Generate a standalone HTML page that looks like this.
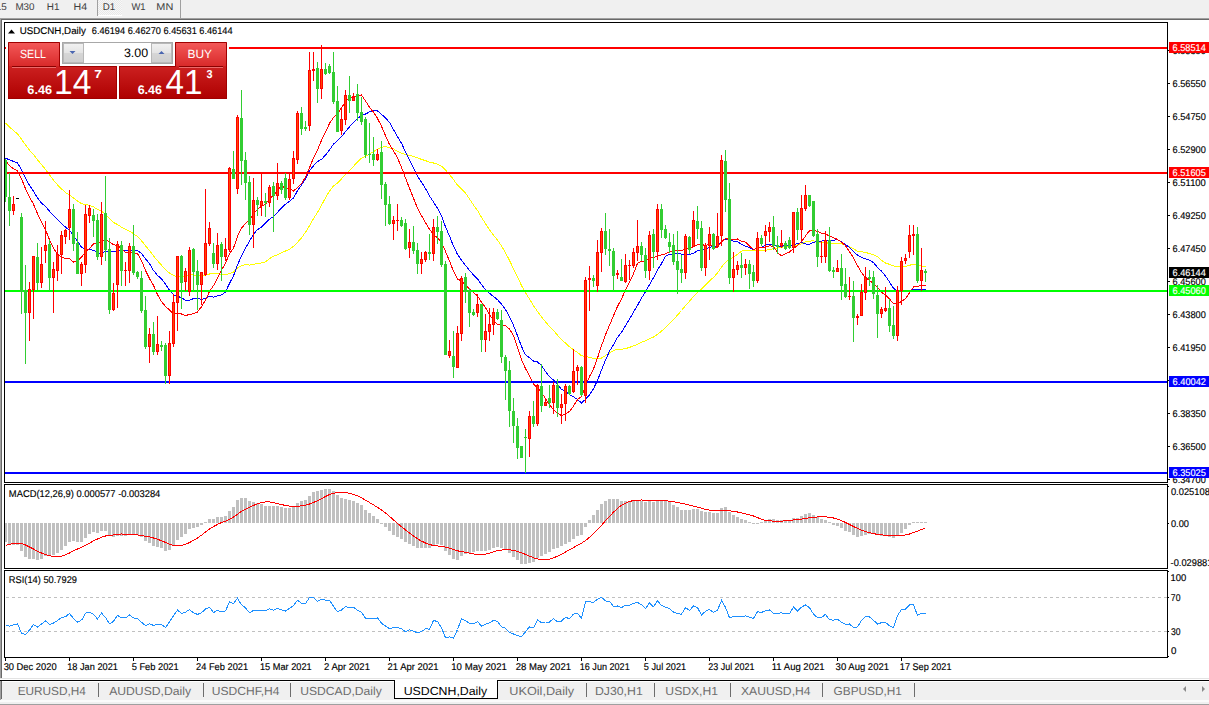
<!DOCTYPE html>
<html><head><meta charset="utf-8"><style>
html,body{margin:0;padding:0;background:#f0f0f0;overflow:hidden;}
svg{display:block;font-family:'Liberation Sans', Arial, sans-serif;text-rendering:geometricPrecision;}
</style></head><body>
<svg width="1209" height="705" viewBox="0 0 1209 705">
<defs><clipPath id="cm"><rect x="5" y="23" width="1162" height="459"/></clipPath><clipPath id="cmacd"><rect x="5" y="485" width="1162" height="83"/></clipPath><clipPath id="crsi"><rect x="5" y="571" width="1162" height="86"/></clipPath><pattern id="chk" width="2" height="2" patternUnits="userSpaceOnUse"><rect width="2" height="2" fill="#f7f7f7"/><rect width="1" height="1" fill="#e8e8e8"/><rect x="1" y="1" width="1" height="1" fill="#e8e8e8"/></pattern><linearGradient id="gTab" x1="0" y1="0" x2="0" y2="1"><stop offset="0" stop-color="#f45a5a"/><stop offset="1" stop-color="#d92a2a"/></linearGradient><linearGradient id="gLow" x1="0" y1="0" x2="0" y2="1"><stop offset="0" stop-color="#e23838"/><stop offset="1" stop-color="#ae0000"/></linearGradient><linearGradient id="gBtn" x1="0" y1="0" x2="0" y2="1"><stop offset="0" stop-color="#f2f2f2"/><stop offset="0.5" stop-color="#e4e4e4"/><stop offset="0.51" stop-color="#d6d6d6"/><stop offset="1" stop-color="#cfcfcf"/></linearGradient></defs>
<rect x="0" y="0" width="1209" height="705" fill="#f0f0f0"/>
<rect x="98" y="0" width="24" height="15.5" fill="url(#chk)"/>
<rect x="97" y="0" width="1" height="16" fill="#a0a0a0"/>
<rect x="98" y="15" width="24" height="1" fill="#ffffff"/>
<rect x="180" y="0" width="1" height="18" fill="#a0a0a0"/>
<text x="-12.59" y="9.9" font-size="9.8" fill="#404040" textLength="19.29" lengthAdjust="spacingAndGlyphs">M15</text>
<text x="15.41" y="9.9" font-size="9.8" fill="#404040" textLength="19.13" lengthAdjust="spacingAndGlyphs">M30</text>
<text x="46.81" y="9.9" font-size="9.8" fill="#404040" textLength="12.67" lengthAdjust="spacingAndGlyphs">H1</text>
<text x="73.55" y="9.9" font-size="9.8" fill="#404040" textLength="13.61" lengthAdjust="spacingAndGlyphs">H4</text>
<text x="102.82" y="9.9" font-size="9.8" fill="#404040" textLength="12.45" lengthAdjust="spacingAndGlyphs">D1</text>
<text x="131.45" y="9.9" font-size="9.8" fill="#404040" textLength="14.17" lengthAdjust="spacingAndGlyphs">W1</text>
<text x="156.33" y="9.9" font-size="9.8" fill="#404040" textLength="16.95" lengthAdjust="spacingAndGlyphs">MN</text>
<rect x="0" y="18" width="1209" height="1" fill="#a0a0a0"/>
<rect x="1" y="19" width="1208" height="1" fill="#696969"/>
<rect x="0" y="18" width="1" height="661" fill="#a0a0a0"/>
<rect x="1" y="19" width="1" height="659" fill="#696969"/>
<rect x="2" y="20" width="1207" height="658" fill="#ffffff"/>
<rect x="0" y="678" width="1209" height="1" fill="#e3e3e3"/>
<rect x="0" y="679" width="1209" height="1" fill="#ffffff"/>
<polyline clip-path="url(#cm)" points="5.5,122.9 9.5,127.0 13.5,130.6 17.5,133.8 21.5,139.2 25.5,145.0 29.5,150.2 33.5,154.6 37.5,159.8 41.5,164.7 45.5,169.3 49.5,174.8 53.5,180.1 57.5,184.9 61.5,188.9 65.5,192.5 69.5,195.1 73.5,197.9 77.5,201.1 81.5,203.6 85.5,204.6 89.5,205.4 93.5,206.8 97.5,209.5 101.5,211.3 105.5,214.3 109.5,218.7 113.5,222.4 117.5,224.6 121.5,227.1 125.5,229.3 129.5,231.1 133.5,233.7 137.5,236.6 141.5,240.7 145.5,245.8 149.5,250.6 153.5,255.9 157.5,260.7 161.5,265.2 165.5,269.7 169.5,273.0 173.5,275.4 177.5,276.9 181.5,276.6 185.5,275.6 189.5,274.6 193.5,275.0 197.5,275.1 201.5,275.3 205.5,275.2 209.5,274.0 213.5,273.9 217.5,273.6 221.5,274.2 225.5,274.6 229.5,273.6 233.5,272.0 237.5,268.1 241.5,265.5 245.5,264.7 249.5,265.1 253.5,264.6 257.5,263.3 261.5,263.0 265.5,261.8 269.5,258.7 273.5,256.3 277.5,254.8 281.5,252.8 285.5,251.0 289.5,249.3 293.5,246.4 297.5,242.3 301.5,237.8 305.5,232.3 309.5,225.7 313.5,218.7 317.5,212.3 321.5,205.3 325.5,197.8 329.5,191.0 333.5,186.0 337.5,182.9 341.5,178.8 345.5,174.4 349.5,170.7 353.5,166.3 357.5,162.0 361.5,158.2 365.5,156.0 369.5,154.2 373.5,151.6 377.5,149.3 381.5,147.5 385.5,146.4 389.5,147.8 393.5,148.8 397.5,151.4 401.5,153.1 405.5,154.7 409.5,155.2 413.5,156.4 417.5,157.9 421.5,159.4 425.5,160.6 429.5,162.3 433.5,163.0 437.5,164.2 441.5,166.1 445.5,170.1 449.5,174.4 453.5,179.6 457.5,185.1 461.5,188.8 465.5,192.9 469.5,198.9 473.5,205.1 477.5,210.5 481.5,217.2 485.5,223.7 489.5,229.9 493.5,235.2 497.5,239.9 501.5,245.9 505.5,252.7 509.5,260.5 513.5,268.7 517.5,277.1 521.5,285.5 525.5,292.6 529.5,299.1 533.5,305.7 537.5,311.4 541.5,316.9 545.5,321.9 549.5,326.4 553.5,330.5 557.5,335.2 561.5,339.6 565.5,343.1 569.5,346.8 573.5,349.9 577.5,352.4 581.5,355.8 585.5,356.5 589.5,357.2 593.5,358.5 597.5,359.0 601.5,358.1 605.5,355.5 609.5,353.0 613.5,350.7 617.5,349.2 621.5,349.3 625.5,348.6 629.5,347.4 633.5,345.9 637.5,344.4 641.5,342.3 645.5,340.8 649.5,338.6 653.5,337.0 657.5,334.3 661.5,331.1 665.5,327.8 669.5,323.7 673.5,319.6 677.5,315.1 681.5,310.5 685.5,305.5 689.5,301.3 693.5,296.3 697.5,292.4 701.5,288.9 705.5,285.0 709.5,280.8 713.5,277.4 717.5,273.1 721.5,267.0 725.5,262.3 729.5,259.4 733.5,256.9 737.5,254.3 741.5,251.1 745.5,250.7 749.5,250.6 753.5,250.6 757.5,250.3 761.5,250.6 765.5,250.2 769.5,249.6 773.5,248.8 777.5,248.1 781.5,247.2 785.5,246.8 789.5,246.4 793.5,245.4 797.5,245.0 801.5,243.8 805.5,241.9 809.5,241.2 813.5,240.8 817.5,241.9 821.5,242.6 825.5,242.7 829.5,243.3 833.5,243.5 837.5,243.5 841.5,243.8 845.5,245.3 849.5,246.5 853.5,248.9 857.5,251.1 861.5,251.7 865.5,252.4 869.5,253.6 873.5,254.7 877.5,256.6 881.5,260.4 885.5,263.1 889.5,264.3 893.5,265.9 897.5,266.6 901.5,266.4 905.5,266.3 909.5,265.3 913.5,264.1 917.5,265.2 921.5,265.9 925.5,266.9" fill="none" stroke="#ffff00" stroke-width="1" shape-rendering="crispEdges"/>
<polyline clip-path="url(#cm)" points="5.5,158.1 9.5,159.9 13.5,161.4 17.5,163.0 21.5,169.7 25.5,178.0 29.5,185.4 33.5,191.2 37.5,197.9 41.5,203.0 45.5,206.5 49.5,211.2 53.5,215.6 57.5,219.7 61.5,223.3 65.5,227.2 69.5,230.3 73.5,235.3 77.5,241.6 81.5,247.0 85.5,249.2 89.5,249.7 93.5,250.2 97.5,252.7 101.5,253.4 105.5,251.4 109.5,251.3 113.5,251.5 117.5,250.9 121.5,250.3 125.5,250.6 129.5,250.6 133.5,250.4 137.5,250.7 141.5,253.4 145.5,258.7 149.5,263.7 153.5,270.5 157.5,275.3 161.5,278.8 165.5,284.1 169.5,290.2 173.5,294.7 177.5,296.4 181.5,297.6 185.5,300.3 189.5,300.4 193.5,298.6 197.5,298.2 201.5,299.6 205.5,298.2 209.5,296.3 213.5,297.1 217.5,295.8 221.5,294.9 225.5,291.9 229.5,283.4 233.5,276.0 237.5,264.8 241.5,256.0 245.5,248.2 249.5,241.0 253.5,234.2 257.5,229.6 261.5,227.0 265.5,223.2 269.5,219.2 273.5,216.6 277.5,212.3 281.5,207.8 285.5,204.3 289.5,201.2 293.5,197.9 297.5,190.7 301.5,185.1 305.5,179.1 309.5,170.5 313.5,165.8 317.5,161.5 321.5,159.3 325.5,155.1 329.5,149.9 333.5,144.1 337.5,140.8 341.5,136.7 345.5,131.6 349.5,126.8 353.5,122.5 357.5,118.5 361.5,115.6 365.5,114.0 369.5,111.9 373.5,111.0 377.5,110.9 381.5,114.3 385.5,117.9 389.5,122.4 393.5,129.5 397.5,136.7 401.5,143.3 405.5,151.8 409.5,159.9 413.5,168.4 417.5,176.1 421.5,182.1 425.5,188.5 429.5,196.0 433.5,202.0 437.5,208.4 441.5,215.7 445.5,226.8 449.5,236.1 453.5,246.2 457.5,254.4 461.5,260.3 465.5,265.4 469.5,270.5 473.5,274.9 477.5,278.9 481.5,284.6 485.5,289.6 489.5,293.2 493.5,296.5 497.5,299.7 501.5,304.2 505.5,309.5 509.5,317.1 513.5,325.3 517.5,335.8 521.5,346.5 525.5,354.8 529.5,357.7 533.5,361.1 537.5,362.0 541.5,365.5 545.5,371.4 549.5,376.7 553.5,380.1 557.5,384.6 561.5,389.3 565.5,391.5 569.5,394.5 573.5,396.8 577.5,399.4 581.5,403.0 585.5,399.3 589.5,394.9 593.5,388.7 597.5,380.4 601.5,370.1 605.5,360.1 609.5,351.2 613.5,344.6 617.5,337.4 621.5,332.4 625.5,325.7 629.5,319.2 633.5,312.0 637.5,305.4 641.5,298.1 645.5,291.8 649.5,284.6 653.5,277.8 657.5,270.1 661.5,263.6 665.5,256.1 669.5,254.5 673.5,253.7 677.5,253.2 681.5,254.2 685.5,254.5 689.5,254.5 693.5,253.1 697.5,250.9 701.5,250.6 705.5,248.9 709.5,247.4 713.5,246.6 717.5,245.9 721.5,241.8 725.5,239.2 729.5,239.5 733.5,241.1 737.5,241.7 741.5,244.5 745.5,246.1 749.5,247.8 753.5,249.5 757.5,248.4 761.5,247.1 765.5,245.1 769.5,244.7 773.5,244.5 777.5,245.7 781.5,246.4 785.5,245.5 789.5,245.6 793.5,244.6 797.5,243.7 801.5,242.4 805.5,244.0 809.5,244.3 813.5,242.3 817.5,241.7 821.5,241.3 825.5,240.0 829.5,240.3 833.5,240.3 837.5,239.7 841.5,241.9 845.5,244.4 849.5,247.5 853.5,251.8 857.5,255.1 861.5,257.3 865.5,258.9 869.5,260.3 873.5,262.5 877.5,267.4 881.5,271.1 885.5,275.9 889.5,282.1 893.5,288.3 897.5,290.9 901.5,291.1 905.5,291.2 909.5,290.9 913.5,289.2 917.5,289.6 921.5,289.7 925.5,289.1" fill="none" stroke="#0000ff" stroke-width="1" shape-rendering="crispEdges"/>
<polyline clip-path="url(#cm)" points="5.5,160.7 9.5,165.6 13.5,168.9 17.5,170.9 21.5,178.9 25.5,188.6 29.5,197.2 33.5,204.2 37.5,213.7 41.5,222.4 45.5,229.9 49.5,239.7 53.5,248.2 57.5,254.3 61.5,257.0 65.5,258.4 69.5,258.8 73.5,262.0 77.5,260.7 81.5,257.2 85.5,251.8 89.5,248.4 93.5,244.0 97.5,243.4 101.5,241.2 105.5,239.2 109.5,242.0 113.5,244.8 117.5,245.5 121.5,248.4 125.5,252.7 129.5,252.9 133.5,252.8 137.5,253.7 141.5,260.6 145.5,270.6 149.5,278.6 153.5,285.4 157.5,294.7 161.5,301.7 165.5,306.4 169.5,310.0 173.5,314.2 177.5,313.1 181.5,314.0 185.5,315.8 189.5,314.2 193.5,313.9 197.5,312.0 201.5,306.7 205.5,300.2 209.5,291.4 213.5,285.6 217.5,278.4 221.5,269.9 225.5,263.2 229.5,253.6 233.5,248.1 237.5,236.2 241.5,228.3 245.5,223.5 249.5,220.1 253.5,214.0 257.5,209.2 261.5,206.2 265.5,204.4 269.5,198.9 273.5,195.4 277.5,190.1 281.5,185.9 285.5,188.0 289.5,188.0 293.5,191.0 297.5,187.6 301.5,183.7 305.5,176.9 309.5,167.7 313.5,158.0 317.5,149.9 321.5,140.4 325.5,132.3 329.5,123.4 333.5,117.6 337.5,113.5 341.5,107.8 345.5,101.8 349.5,97.8 353.5,96.6 357.5,95.5 361.5,94.9 365.5,101.0 369.5,107.2 373.5,112.2 377.5,118.4 381.5,126.3 385.5,135.7 389.5,144.5 393.5,150.8 397.5,158.0 401.5,167.4 405.5,177.9 409.5,188.3 413.5,198.2 417.5,208.3 421.5,215.7 425.5,222.6 429.5,229.3 433.5,234.5 437.5,237.9 441.5,242.2 445.5,251.5 449.5,260.9 453.5,271.4 457.5,279.0 461.5,281.1 465.5,284.6 469.5,289.0 473.5,292.6 477.5,295.9 481.5,302.2 485.5,307.7 489.5,314.6 493.5,320.4 497.5,324.2 501.5,324.4 505.5,325.8 509.5,329.0 513.5,335.6 517.5,347.7 521.5,359.6 525.5,368.6 529.5,375.8 533.5,384.3 537.5,387.5 541.5,392.8 545.5,398.4 549.5,404.8 553.5,409.6 557.5,413.2 561.5,415.6 565.5,413.8 569.5,411.5 573.5,406.1 577.5,399.6 581.5,396.6 585.5,386.8 589.5,376.5 593.5,369.0 597.5,358.0 601.5,345.8 605.5,334.8 609.5,325.2 613.5,315.8 617.5,306.4 621.5,298.9 625.5,289.7 629.5,282.1 633.5,273.8 637.5,263.2 641.5,261.5 645.5,260.9 649.5,257.7 653.5,257.7 657.5,256.1 661.5,254.8 665.5,253.9 669.5,251.7 673.5,250.9 677.5,250.2 681.5,250.7 685.5,248.7 689.5,248.6 693.5,246.7 697.5,244.9 701.5,244.6 705.5,245.4 709.5,244.1 713.5,246.9 717.5,247.3 721.5,241.8 725.5,238.4 729.5,239.6 733.5,239.5 737.5,239.0 741.5,241.2 745.5,242.2 749.5,246.0 753.5,249.6 757.5,247.6 761.5,247.5 765.5,247.3 769.5,245.8 773.5,246.5 777.5,252.6 781.5,255.8 785.5,253.6 789.5,252.1 793.5,248.4 797.5,245.7 801.5,241.7 805.5,236.0 809.5,230.7 813.5,230.5 817.5,231.4 821.5,233.2 825.5,234.1 829.5,235.9 833.5,237.7 837.5,239.5 841.5,242.2 845.5,245.7 849.5,251.7 853.5,257.9 857.5,265.6 861.5,272.6 865.5,277.6 869.5,280.6 873.5,283.3 877.5,287.4 881.5,292.3 885.5,295.0 889.5,298.9 893.5,303.7 897.5,304.0 901.5,301.4 905.5,298.7 909.5,292.8 913.5,287.0 917.5,286.2 921.5,285.8 925.5,285.3" fill="none" stroke="#ff0000" stroke-width="1" shape-rendering="crispEdges"/>
<g shape-rendering="crispEdges">
<rect x="5" y="47" width="1162" height="2" fill="#ff0000"/>
<rect x="5" y="172" width="1162" height="2" fill="#ff0000"/>
<rect x="5" y="290" width="1162" height="2" fill="#00ff00"/>
<rect x="5" y="381" width="1162" height="2" fill="#0000ff"/>
<rect x="5" y="472" width="1162" height="2" fill="#0000ff"/>
</g>
<g clip-path="url(#cm)" shape-rendering="crispEdges">
<rect x="5" y="159" width="1" height="43" fill="#32cd32"/>
<rect x="4" y="160" width="3" height="37" fill="#32cd32"/>
<rect x="9" y="173" width="1" height="53" fill="#32cd32"/>
<rect x="8" y="197" width="3" height="14" fill="#32cd32"/>
<rect x="13" y="196" width="1" height="19" fill="#ff0000"/>
<rect x="12" y="204" width="3" height="7" fill="#ff0000"/>
<rect x="13" y="205" width="1" height="5" fill="#ff4500"/>
<rect x="16" y="198" width="3" height="1" fill="#000"/>
<rect x="21" y="213" width="1" height="101" fill="#32cd32"/>
<rect x="20" y="217" width="3" height="75" fill="#32cd32"/>
<rect x="25" y="265" width="1" height="99" fill="#32cd32"/>
<rect x="24" y="290" width="3" height="23" fill="#32cd32"/>
<rect x="29" y="282" width="1" height="59" fill="#ff0000"/>
<rect x="28" y="289" width="3" height="24" fill="#ff0000"/>
<rect x="29" y="290" width="1" height="22" fill="#ff4500"/>
<rect x="33" y="256" width="1" height="63" fill="#ff0000"/>
<rect x="32" y="256" width="3" height="34" fill="#ff0000"/>
<rect x="33" y="257" width="1" height="32" fill="#ff4500"/>
<rect x="37" y="243" width="1" height="47" fill="#32cd32"/>
<rect x="36" y="257" width="3" height="26" fill="#32cd32"/>
<rect x="41" y="247" width="1" height="41" fill="#ff0000"/>
<rect x="40" y="264" width="3" height="19" fill="#ff0000"/>
<rect x="41" y="265" width="1" height="17" fill="#ff4500"/>
<rect x="45" y="221" width="1" height="42" fill="#ff0000"/>
<rect x="44" y="245" width="3" height="6" fill="#ff0000"/>
<rect x="45" y="246" width="1" height="4" fill="#ff4500"/>
<rect x="49" y="240" width="1" height="51" fill="#32cd32"/>
<rect x="48" y="244" width="3" height="34" fill="#32cd32"/>
<rect x="53" y="262" width="1" height="51" fill="#ff0000"/>
<rect x="52" y="269" width="3" height="9" fill="#ff0000"/>
<rect x="53" y="270" width="1" height="7" fill="#ff4500"/>
<rect x="57" y="245" width="1" height="36" fill="#ff0000"/>
<rect x="56" y="254" width="3" height="17" fill="#ff0000"/>
<rect x="57" y="255" width="1" height="15" fill="#ff4500"/>
<rect x="61" y="231" width="1" height="43" fill="#ff0000"/>
<rect x="60" y="235" width="3" height="20" fill="#ff0000"/>
<rect x="61" y="236" width="1" height="18" fill="#ff4500"/>
<rect x="65" y="229" width="1" height="15" fill="#ff0000"/>
<rect x="64" y="230" width="3" height="7" fill="#ff0000"/>
<rect x="65" y="231" width="1" height="5" fill="#ff4500"/>
<rect x="69" y="190" width="1" height="50" fill="#ff0000"/>
<rect x="68" y="209" width="3" height="19" fill="#ff0000"/>
<rect x="69" y="210" width="1" height="17" fill="#ff4500"/>
<rect x="73" y="204" width="1" height="47" fill="#32cd32"/>
<rect x="72" y="209" width="3" height="35" fill="#32cd32"/>
<rect x="77" y="232" width="1" height="42" fill="#32cd32"/>
<rect x="76" y="243" width="3" height="31" fill="#32cd32"/>
<rect x="81" y="262" width="1" height="24" fill="#ff0000"/>
<rect x="80" y="264" width="3" height="10" fill="#ff0000"/>
<rect x="81" y="265" width="1" height="8" fill="#ff4500"/>
<rect x="85" y="205" width="1" height="68" fill="#ff0000"/>
<rect x="84" y="214" width="3" height="51" fill="#ff0000"/>
<rect x="85" y="215" width="1" height="49" fill="#ff4500"/>
<rect x="89" y="205" width="1" height="18" fill="#ff0000"/>
<rect x="88" y="208" width="3" height="8" fill="#ff0000"/>
<rect x="89" y="209" width="1" height="6" fill="#ff4500"/>
<rect x="93" y="209" width="1" height="28" fill="#32cd32"/>
<rect x="92" y="215" width="3" height="6" fill="#32cd32"/>
<rect x="97" y="214" width="1" height="46" fill="#32cd32"/>
<rect x="96" y="220" width="3" height="37" fill="#32cd32"/>
<rect x="101" y="202" width="1" height="63" fill="#ff0000"/>
<rect x="100" y="214" width="3" height="43" fill="#ff0000"/>
<rect x="101" y="215" width="1" height="41" fill="#ff4500"/>
<rect x="105" y="176" width="1" height="85" fill="#32cd32"/>
<rect x="104" y="213" width="3" height="37" fill="#32cd32"/>
<rect x="109" y="238" width="1" height="76" fill="#32cd32"/>
<rect x="108" y="249" width="3" height="61" fill="#32cd32"/>
<rect x="113" y="283" width="1" height="28" fill="#ff0000"/>
<rect x="112" y="293" width="3" height="17" fill="#ff0000"/>
<rect x="113" y="294" width="1" height="15" fill="#ff4500"/>
<rect x="117" y="241" width="1" height="67" fill="#ff0000"/>
<rect x="116" y="244" width="3" height="41" fill="#ff0000"/>
<rect x="117" y="245" width="1" height="39" fill="#ff4500"/>
<rect x="121" y="241" width="1" height="45" fill="#32cd32"/>
<rect x="120" y="245" width="3" height="26" fill="#32cd32"/>
<rect x="125" y="262" width="1" height="24" fill="#ff0000"/>
<rect x="124" y="270" width="3" height="1" fill="#ff0000"/>
<rect x="129" y="243" width="1" height="40" fill="#ff0000"/>
<rect x="128" y="246" width="3" height="25" fill="#ff0000"/>
<rect x="129" y="247" width="1" height="23" fill="#ff4500"/>
<rect x="133" y="225" width="1" height="50" fill="#32cd32"/>
<rect x="132" y="246" width="3" height="27" fill="#32cd32"/>
<rect x="137" y="271" width="1" height="8" fill="#32cd32"/>
<rect x="136" y="272" width="3" height="5" fill="#32cd32"/>
<rect x="141" y="271" width="1" height="42" fill="#32cd32"/>
<rect x="140" y="278" width="3" height="33" fill="#32cd32"/>
<rect x="145" y="296" width="1" height="53" fill="#32cd32"/>
<rect x="144" y="310" width="3" height="37" fill="#32cd32"/>
<rect x="149" y="328" width="1" height="35" fill="#ff0000"/>
<rect x="148" y="334" width="3" height="13" fill="#ff0000"/>
<rect x="149" y="335" width="1" height="11" fill="#ff4500"/>
<rect x="153" y="322" width="1" height="33" fill="#32cd32"/>
<rect x="152" y="334" width="3" height="18" fill="#32cd32"/>
<rect x="157" y="316" width="1" height="39" fill="#ff0000"/>
<rect x="156" y="344" width="3" height="8" fill="#ff0000"/>
<rect x="157" y="345" width="1" height="6" fill="#ff4500"/>
<rect x="161" y="341" width="1" height="10" fill="#32cd32"/>
<rect x="160" y="345" width="3" height="2" fill="#32cd32"/>
<rect x="165" y="343" width="1" height="41" fill="#32cd32"/>
<rect x="164" y="345" width="3" height="31" fill="#32cd32"/>
<rect x="169" y="331" width="1" height="53" fill="#ff0000"/>
<rect x="168" y="343" width="3" height="33" fill="#ff0000"/>
<rect x="169" y="344" width="1" height="31" fill="#ff4500"/>
<rect x="173" y="294" width="1" height="53" fill="#ff0000"/>
<rect x="172" y="302" width="3" height="42" fill="#ff0000"/>
<rect x="173" y="303" width="1" height="40" fill="#ff4500"/>
<rect x="177" y="256" width="1" height="75" fill="#ff0000"/>
<rect x="176" y="256" width="3" height="47" fill="#ff0000"/>
<rect x="177" y="257" width="1" height="45" fill="#ff4500"/>
<rect x="181" y="255" width="1" height="54" fill="#32cd32"/>
<rect x="180" y="256" width="3" height="27" fill="#32cd32"/>
<rect x="185" y="268" width="1" height="23" fill="#ff0000"/>
<rect x="184" y="271" width="3" height="11" fill="#ff0000"/>
<rect x="185" y="272" width="1" height="9" fill="#ff4500"/>
<rect x="189" y="247" width="1" height="49" fill="#ff0000"/>
<rect x="188" y="250" width="3" height="42" fill="#ff0000"/>
<rect x="189" y="251" width="1" height="40" fill="#ff4500"/>
<rect x="193" y="248" width="1" height="43" fill="#32cd32"/>
<rect x="192" y="249" width="3" height="23" fill="#32cd32"/>
<rect x="197" y="260" width="1" height="50" fill="#32cd32"/>
<rect x="196" y="271" width="3" height="14" fill="#32cd32"/>
<rect x="201" y="272" width="1" height="33" fill="#ff0000"/>
<rect x="200" y="272" width="3" height="13" fill="#ff0000"/>
<rect x="201" y="273" width="1" height="11" fill="#ff4500"/>
<rect x="205" y="189" width="1" height="87" fill="#ff0000"/>
<rect x="204" y="243" width="3" height="32" fill="#ff0000"/>
<rect x="205" y="244" width="1" height="30" fill="#ff4500"/>
<rect x="209" y="222" width="1" height="24" fill="#ff0000"/>
<rect x="208" y="228" width="3" height="16" fill="#ff0000"/>
<rect x="209" y="229" width="1" height="14" fill="#ff4500"/>
<rect x="213" y="243" width="1" height="25" fill="#32cd32"/>
<rect x="212" y="253" width="3" height="11" fill="#32cd32"/>
<rect x="217" y="233" width="1" height="37" fill="#ff0000"/>
<rect x="216" y="245" width="3" height="19" fill="#ff0000"/>
<rect x="217" y="246" width="1" height="17" fill="#ff4500"/>
<rect x="221" y="242" width="1" height="39" fill="#32cd32"/>
<rect x="220" y="244" width="3" height="13" fill="#32cd32"/>
<rect x="225" y="238" width="1" height="23" fill="#ff0000"/>
<rect x="224" y="249" width="3" height="8" fill="#ff0000"/>
<rect x="225" y="250" width="1" height="6" fill="#ff4500"/>
<rect x="229" y="167" width="1" height="85" fill="#ff0000"/>
<rect x="228" y="168" width="3" height="82" fill="#ff0000"/>
<rect x="229" y="169" width="1" height="80" fill="#ff4500"/>
<rect x="233" y="151" width="1" height="28" fill="#32cd32"/>
<rect x="232" y="169" width="3" height="10" fill="#32cd32"/>
<rect x="237" y="115" width="1" height="79" fill="#ff0000"/>
<rect x="236" y="117" width="3" height="72" fill="#ff0000"/>
<rect x="237" y="118" width="1" height="70" fill="#ff4500"/>
<rect x="241" y="90" width="1" height="95" fill="#32cd32"/>
<rect x="240" y="118" width="3" height="43" fill="#32cd32"/>
<rect x="245" y="152" width="1" height="48" fill="#32cd32"/>
<rect x="244" y="160" width="3" height="23" fill="#32cd32"/>
<rect x="249" y="176" width="1" height="59" fill="#32cd32"/>
<rect x="248" y="182" width="3" height="43" fill="#32cd32"/>
<rect x="253" y="178" width="1" height="70" fill="#ff0000"/>
<rect x="252" y="200" width="3" height="25" fill="#ff0000"/>
<rect x="253" y="201" width="1" height="23" fill="#ff4500"/>
<rect x="257" y="197" width="1" height="19" fill="#32cd32"/>
<rect x="256" y="200" width="3" height="5" fill="#32cd32"/>
<rect x="261" y="173" width="1" height="43" fill="#ff0000"/>
<rect x="260" y="201" width="3" height="5" fill="#ff0000"/>
<rect x="261" y="202" width="1" height="3" fill="#ff4500"/>
<rect x="265" y="193" width="1" height="24" fill="#32cd32"/>
<rect x="264" y="201" width="3" height="2" fill="#32cd32"/>
<rect x="269" y="185" width="1" height="22" fill="#ff0000"/>
<rect x="268" y="187" width="3" height="16" fill="#ff0000"/>
<rect x="269" y="188" width="1" height="14" fill="#ff4500"/>
<rect x="273" y="182" width="1" height="50" fill="#32cd32"/>
<rect x="272" y="186" width="3" height="10" fill="#32cd32"/>
<rect x="277" y="163" width="1" height="37" fill="#ff0000"/>
<rect x="276" y="183" width="3" height="13" fill="#ff0000"/>
<rect x="277" y="184" width="1" height="11" fill="#ff4500"/>
<rect x="281" y="181" width="1" height="13" fill="#32cd32"/>
<rect x="280" y="183" width="3" height="7" fill="#32cd32"/>
<rect x="285" y="173" width="1" height="27" fill="#32cd32"/>
<rect x="284" y="178" width="3" height="20" fill="#32cd32"/>
<rect x="289" y="173" width="1" height="27" fill="#ff0000"/>
<rect x="288" y="179" width="3" height="19" fill="#ff0000"/>
<rect x="289" y="180" width="1" height="17" fill="#ff4500"/>
<rect x="293" y="151" width="1" height="33" fill="#ff0000"/>
<rect x="292" y="158" width="3" height="21" fill="#ff0000"/>
<rect x="293" y="159" width="1" height="19" fill="#ff4500"/>
<rect x="297" y="111" width="1" height="53" fill="#ff0000"/>
<rect x="296" y="113" width="3" height="47" fill="#ff0000"/>
<rect x="297" y="114" width="1" height="45" fill="#ff4500"/>
<rect x="301" y="107" width="1" height="28" fill="#32cd32"/>
<rect x="300" y="113" width="3" height="16" fill="#32cd32"/>
<rect x="305" y="121" width="1" height="10" fill="#32cd32"/>
<rect x="304" y="127" width="3" height="2" fill="#32cd32"/>
<rect x="309" y="52" width="1" height="79" fill="#ff0000"/>
<rect x="308" y="70" width="3" height="56" fill="#ff0000"/>
<rect x="309" y="71" width="1" height="54" fill="#ff4500"/>
<rect x="313" y="52" width="1" height="29" fill="#ff0000"/>
<rect x="312" y="69" width="3" height="2" fill="#ff0000"/>
<rect x="317" y="62" width="1" height="41" fill="#32cd32"/>
<rect x="316" y="68" width="3" height="21" fill="#32cd32"/>
<rect x="321" y="45" width="1" height="54" fill="#ff0000"/>
<rect x="320" y="69" width="3" height="20" fill="#ff0000"/>
<rect x="321" y="70" width="1" height="18" fill="#ff4500"/>
<rect x="325" y="63" width="1" height="12" fill="#32cd32"/>
<rect x="324" y="69" width="3" height="5" fill="#32cd32"/>
<rect x="329" y="64" width="1" height="10" fill="#32cd32"/>
<rect x="328" y="66" width="3" height="7" fill="#32cd32"/>
<rect x="333" y="52" width="1" height="52" fill="#32cd32"/>
<rect x="332" y="72" width="3" height="30" fill="#32cd32"/>
<rect x="337" y="86" width="1" height="46" fill="#32cd32"/>
<rect x="336" y="101" width="3" height="31" fill="#32cd32"/>
<rect x="341" y="108" width="1" height="27" fill="#ff0000"/>
<rect x="340" y="119" width="3" height="12" fill="#ff0000"/>
<rect x="341" y="120" width="1" height="10" fill="#ff4500"/>
<rect x="345" y="90" width="1" height="35" fill="#ff0000"/>
<rect x="344" y="95" width="3" height="25" fill="#ff0000"/>
<rect x="345" y="96" width="1" height="23" fill="#ff4500"/>
<rect x="349" y="76" width="1" height="37" fill="#32cd32"/>
<rect x="348" y="95" width="3" height="6" fill="#32cd32"/>
<rect x="353" y="93" width="1" height="8" fill="#ff0000"/>
<rect x="352" y="97" width="3" height="4" fill="#ff0000"/>
<rect x="353" y="98" width="1" height="2" fill="#ff4500"/>
<rect x="357" y="84" width="1" height="37" fill="#32cd32"/>
<rect x="356" y="94" width="3" height="19" fill="#32cd32"/>
<rect x="361" y="97" width="1" height="28" fill="#32cd32"/>
<rect x="360" y="112" width="3" height="10" fill="#32cd32"/>
<rect x="365" y="117" width="1" height="41" fill="#32cd32"/>
<rect x="364" y="119" width="3" height="36" fill="#32cd32"/>
<rect x="369" y="123" width="1" height="40" fill="#32cd32"/>
<rect x="368" y="154" width="3" height="1" fill="#32cd32"/>
<rect x="373" y="137" width="1" height="29" fill="#32cd32"/>
<rect x="372" y="154" width="3" height="6" fill="#32cd32"/>
<rect x="377" y="149" width="1" height="12" fill="#ff0000"/>
<rect x="376" y="154" width="3" height="6" fill="#ff0000"/>
<rect x="377" y="155" width="1" height="4" fill="#ff4500"/>
<rect x="381" y="141" width="1" height="58" fill="#32cd32"/>
<rect x="380" y="152" width="3" height="33" fill="#32cd32"/>
<rect x="385" y="182" width="1" height="44" fill="#32cd32"/>
<rect x="384" y="184" width="3" height="21" fill="#32cd32"/>
<rect x="389" y="196" width="1" height="29" fill="#32cd32"/>
<rect x="388" y="204" width="3" height="20" fill="#32cd32"/>
<rect x="393" y="216" width="1" height="24" fill="#ff0000"/>
<rect x="392" y="220" width="3" height="4" fill="#ff0000"/>
<rect x="393" y="221" width="1" height="2" fill="#ff4500"/>
<rect x="397" y="204" width="1" height="27" fill="#ff0000"/>
<rect x="396" y="220" width="3" height="1" fill="#ff0000"/>
<rect x="401" y="217" width="1" height="10" fill="#32cd32"/>
<rect x="400" y="220" width="3" height="6" fill="#32cd32"/>
<rect x="405" y="219" width="1" height="31" fill="#32cd32"/>
<rect x="404" y="223" width="3" height="26" fill="#32cd32"/>
<rect x="409" y="229" width="1" height="29" fill="#ff0000"/>
<rect x="408" y="242" width="3" height="6" fill="#ff0000"/>
<rect x="409" y="243" width="1" height="4" fill="#ff4500"/>
<rect x="413" y="226" width="1" height="28" fill="#32cd32"/>
<rect x="412" y="242" width="3" height="9" fill="#32cd32"/>
<rect x="417" y="243" width="1" height="31" fill="#32cd32"/>
<rect x="416" y="250" width="3" height="14" fill="#32cd32"/>
<rect x="421" y="252" width="1" height="22" fill="#ff0000"/>
<rect x="420" y="259" width="3" height="5" fill="#ff0000"/>
<rect x="421" y="260" width="1" height="3" fill="#ff4500"/>
<rect x="425" y="251" width="1" height="11" fill="#ff0000"/>
<rect x="424" y="252" width="3" height="8" fill="#ff0000"/>
<rect x="425" y="253" width="1" height="6" fill="#ff4500"/>
<rect x="429" y="234" width="1" height="26" fill="#32cd32"/>
<rect x="428" y="252" width="3" height="2" fill="#32cd32"/>
<rect x="433" y="219" width="1" height="42" fill="#ff0000"/>
<rect x="432" y="227" width="3" height="27" fill="#ff0000"/>
<rect x="433" y="228" width="1" height="25" fill="#ff4500"/>
<rect x="437" y="216" width="1" height="28" fill="#32cd32"/>
<rect x="436" y="227" width="3" height="5" fill="#32cd32"/>
<rect x="441" y="221" width="1" height="46" fill="#32cd32"/>
<rect x="440" y="231" width="3" height="34" fill="#32cd32"/>
<rect x="445" y="261" width="1" height="94" fill="#32cd32"/>
<rect x="444" y="264" width="3" height="91" fill="#32cd32"/>
<rect x="449" y="340" width="1" height="18" fill="#ff0000"/>
<rect x="448" y="351" width="3" height="5" fill="#ff0000"/>
<rect x="449" y="352" width="1" height="3" fill="#ff4500"/>
<rect x="453" y="331" width="1" height="47" fill="#32cd32"/>
<rect x="452" y="356" width="3" height="11" fill="#32cd32"/>
<rect x="457" y="326" width="1" height="42" fill="#ff0000"/>
<rect x="456" y="333" width="3" height="35" fill="#ff0000"/>
<rect x="457" y="334" width="1" height="33" fill="#ff4500"/>
<rect x="461" y="276" width="1" height="65" fill="#ff0000"/>
<rect x="460" y="278" width="3" height="56" fill="#ff0000"/>
<rect x="461" y="279" width="1" height="54" fill="#ff4500"/>
<rect x="465" y="273" width="1" height="30" fill="#32cd32"/>
<rect x="464" y="277" width="3" height="15" fill="#32cd32"/>
<rect x="469" y="288" width="1" height="39" fill="#32cd32"/>
<rect x="468" y="290" width="3" height="23" fill="#32cd32"/>
<rect x="473" y="309" width="1" height="7" fill="#32cd32"/>
<rect x="472" y="312" width="3" height="3" fill="#32cd32"/>
<rect x="477" y="294" width="1" height="23" fill="#ff0000"/>
<rect x="476" y="304" width="3" height="9" fill="#ff0000"/>
<rect x="477" y="305" width="1" height="7" fill="#ff4500"/>
<rect x="481" y="304" width="1" height="48" fill="#32cd32"/>
<rect x="480" y="304" width="3" height="36" fill="#32cd32"/>
<rect x="485" y="314" width="1" height="38" fill="#ff0000"/>
<rect x="484" y="331" width="3" height="9" fill="#ff0000"/>
<rect x="485" y="332" width="1" height="7" fill="#ff4500"/>
<rect x="489" y="308" width="1" height="33" fill="#ff0000"/>
<rect x="488" y="324" width="3" height="8" fill="#ff0000"/>
<rect x="489" y="325" width="1" height="6" fill="#ff4500"/>
<rect x="493" y="308" width="1" height="27" fill="#ff0000"/>
<rect x="492" y="312" width="3" height="13" fill="#ff0000"/>
<rect x="493" y="313" width="1" height="11" fill="#ff4500"/>
<rect x="497" y="309" width="1" height="11" fill="#32cd32"/>
<rect x="496" y="312" width="3" height="7" fill="#32cd32"/>
<rect x="501" y="310" width="1" height="53" fill="#32cd32"/>
<rect x="500" y="320" width="3" height="37" fill="#32cd32"/>
<rect x="505" y="355" width="1" height="45" fill="#32cd32"/>
<rect x="504" y="357" width="3" height="14" fill="#32cd32"/>
<rect x="509" y="361" width="1" height="66" fill="#32cd32"/>
<rect x="508" y="370" width="3" height="41" fill="#32cd32"/>
<rect x="513" y="398" width="1" height="45" fill="#32cd32"/>
<rect x="512" y="411" width="3" height="15" fill="#32cd32"/>
<rect x="517" y="418" width="1" height="41" fill="#32cd32"/>
<rect x="516" y="426" width="3" height="22" fill="#32cd32"/>
<rect x="521" y="446" width="1" height="12" fill="#32cd32"/>
<rect x="520" y="446" width="3" height="12" fill="#32cd32"/>
<rect x="525" y="429" width="1" height="44" fill="#32cd32"/>
<rect x="524" y="437" width="3" height="1" fill="#32cd32"/>
<rect x="529" y="411" width="1" height="46" fill="#ff0000"/>
<rect x="528" y="416" width="3" height="23" fill="#ff0000"/>
<rect x="529" y="417" width="1" height="21" fill="#ff4500"/>
<rect x="533" y="401" width="1" height="26" fill="#32cd32"/>
<rect x="532" y="416" width="3" height="8" fill="#32cd32"/>
<rect x="537" y="384" width="1" height="42" fill="#ff0000"/>
<rect x="536" y="385" width="3" height="39" fill="#ff0000"/>
<rect x="537" y="386" width="1" height="37" fill="#ff4500"/>
<rect x="541" y="364" width="1" height="48" fill="#32cd32"/>
<rect x="540" y="386" width="3" height="20" fill="#32cd32"/>
<rect x="545" y="398" width="1" height="8" fill="#ff0000"/>
<rect x="544" y="402" width="3" height="4" fill="#ff0000"/>
<rect x="545" y="403" width="1" height="2" fill="#ff4500"/>
<rect x="549" y="385" width="1" height="23" fill="#32cd32"/>
<rect x="548" y="398" width="3" height="5" fill="#32cd32"/>
<rect x="553" y="382" width="1" height="32" fill="#ff0000"/>
<rect x="552" y="385" width="3" height="18" fill="#ff0000"/>
<rect x="553" y="386" width="1" height="16" fill="#ff4500"/>
<rect x="557" y="379" width="1" height="38" fill="#32cd32"/>
<rect x="556" y="385" width="3" height="23" fill="#32cd32"/>
<rect x="561" y="394" width="1" height="30" fill="#ff0000"/>
<rect x="560" y="404" width="3" height="4" fill="#ff0000"/>
<rect x="561" y="405" width="1" height="2" fill="#ff4500"/>
<rect x="565" y="384" width="1" height="37" fill="#ff0000"/>
<rect x="564" y="386" width="3" height="18" fill="#ff0000"/>
<rect x="565" y="387" width="1" height="16" fill="#ff4500"/>
<rect x="569" y="385" width="1" height="10" fill="#32cd32"/>
<rect x="568" y="386" width="3" height="8" fill="#32cd32"/>
<rect x="573" y="349" width="1" height="44" fill="#ff0000"/>
<rect x="572" y="371" width="3" height="21" fill="#ff0000"/>
<rect x="573" y="372" width="1" height="19" fill="#ff4500"/>
<rect x="577" y="365" width="1" height="20" fill="#ff0000"/>
<rect x="576" y="367" width="3" height="4" fill="#ff0000"/>
<rect x="577" y="368" width="1" height="2" fill="#ff4500"/>
<rect x="581" y="366" width="1" height="30" fill="#32cd32"/>
<rect x="580" y="367" width="3" height="28" fill="#32cd32"/>
<rect x="585" y="277" width="1" height="126" fill="#ff0000"/>
<rect x="584" y="280" width="3" height="116" fill="#ff0000"/>
<rect x="585" y="281" width="1" height="114" fill="#ff4500"/>
<rect x="589" y="266" width="1" height="45" fill="#ff0000"/>
<rect x="588" y="278" width="3" height="2" fill="#ff0000"/>
<rect x="593" y="275" width="1" height="12" fill="#32cd32"/>
<rect x="592" y="278" width="3" height="3" fill="#32cd32"/>
<rect x="597" y="240" width="1" height="52" fill="#ff0000"/>
<rect x="596" y="252" width="3" height="34" fill="#ff0000"/>
<rect x="597" y="253" width="1" height="32" fill="#ff4500"/>
<rect x="601" y="228" width="1" height="44" fill="#ff0000"/>
<rect x="600" y="231" width="3" height="22" fill="#ff0000"/>
<rect x="601" y="232" width="1" height="20" fill="#ff4500"/>
<rect x="605" y="213" width="1" height="42" fill="#32cd32"/>
<rect x="604" y="231" width="3" height="18" fill="#32cd32"/>
<rect x="609" y="229" width="1" height="37" fill="#32cd32"/>
<rect x="608" y="249" width="3" height="2" fill="#32cd32"/>
<rect x="613" y="248" width="1" height="43" fill="#32cd32"/>
<rect x="612" y="251" width="3" height="25" fill="#32cd32"/>
<rect x="617" y="270" width="1" height="9" fill="#ff0000"/>
<rect x="616" y="273" width="3" height="2" fill="#ff0000"/>
<rect x="621" y="259" width="1" height="22" fill="#32cd32"/>
<rect x="620" y="277" width="3" height="4" fill="#32cd32"/>
<rect x="625" y="254" width="1" height="29" fill="#ff0000"/>
<rect x="624" y="265" width="3" height="17" fill="#ff0000"/>
<rect x="625" y="266" width="1" height="15" fill="#ff4500"/>
<rect x="629" y="260" width="1" height="20" fill="#ff0000"/>
<rect x="628" y="265" width="3" height="1" fill="#ff0000"/>
<rect x="633" y="248" width="1" height="20" fill="#ff0000"/>
<rect x="632" y="252" width="3" height="14" fill="#ff0000"/>
<rect x="633" y="253" width="1" height="12" fill="#ff4500"/>
<rect x="637" y="220" width="1" height="41" fill="#ff0000"/>
<rect x="636" y="246" width="3" height="7" fill="#ff0000"/>
<rect x="637" y="247" width="1" height="5" fill="#ff4500"/>
<rect x="641" y="242" width="1" height="19" fill="#32cd32"/>
<rect x="640" y="246" width="3" height="9" fill="#32cd32"/>
<rect x="645" y="248" width="1" height="30" fill="#32cd32"/>
<rect x="644" y="255" width="3" height="16" fill="#32cd32"/>
<rect x="649" y="231" width="1" height="49" fill="#ff0000"/>
<rect x="648" y="235" width="3" height="36" fill="#ff0000"/>
<rect x="649" y="236" width="1" height="34" fill="#ff4500"/>
<rect x="653" y="229" width="1" height="39" fill="#32cd32"/>
<rect x="652" y="234" width="3" height="18" fill="#32cd32"/>
<rect x="657" y="204" width="1" height="56" fill="#ff0000"/>
<rect x="656" y="209" width="3" height="43" fill="#ff0000"/>
<rect x="657" y="210" width="1" height="41" fill="#ff4500"/>
<rect x="661" y="204" width="1" height="34" fill="#32cd32"/>
<rect x="660" y="209" width="3" height="21" fill="#32cd32"/>
<rect x="665" y="225" width="1" height="14" fill="#32cd32"/>
<rect x="664" y="229" width="3" height="9" fill="#32cd32"/>
<rect x="669" y="233" width="1" height="20" fill="#32cd32"/>
<rect x="668" y="242" width="3" height="5" fill="#32cd32"/>
<rect x="673" y="234" width="1" height="31" fill="#32cd32"/>
<rect x="672" y="245" width="3" height="17" fill="#32cd32"/>
<rect x="677" y="231" width="1" height="63" fill="#32cd32"/>
<rect x="676" y="261" width="3" height="9" fill="#32cd32"/>
<rect x="681" y="255" width="1" height="28" fill="#32cd32"/>
<rect x="680" y="269" width="3" height="4" fill="#32cd32"/>
<rect x="685" y="234" width="1" height="45" fill="#ff0000"/>
<rect x="684" y="236" width="3" height="37" fill="#ff0000"/>
<rect x="685" y="237" width="1" height="35" fill="#ff4500"/>
<rect x="689" y="236" width="1" height="18" fill="#32cd32"/>
<rect x="688" y="237" width="3" height="13" fill="#32cd32"/>
<rect x="693" y="211" width="1" height="36" fill="#ff0000"/>
<rect x="692" y="220" width="3" height="27" fill="#ff0000"/>
<rect x="693" y="221" width="1" height="25" fill="#ff4500"/>
<rect x="697" y="206" width="1" height="33" fill="#32cd32"/>
<rect x="696" y="221" width="3" height="8" fill="#32cd32"/>
<rect x="701" y="221" width="1" height="50" fill="#32cd32"/>
<rect x="700" y="228" width="3" height="40" fill="#32cd32"/>
<rect x="705" y="243" width="1" height="33" fill="#ff0000"/>
<rect x="704" y="245" width="3" height="23" fill="#ff0000"/>
<rect x="705" y="246" width="1" height="21" fill="#ff4500"/>
<rect x="709" y="227" width="1" height="33" fill="#ff0000"/>
<rect x="708" y="234" width="3" height="12" fill="#ff0000"/>
<rect x="709" y="235" width="1" height="10" fill="#ff4500"/>
<rect x="713" y="233" width="1" height="17" fill="#32cd32"/>
<rect x="712" y="234" width="3" height="15" fill="#32cd32"/>
<rect x="717" y="213" width="1" height="35" fill="#ff0000"/>
<rect x="716" y="236" width="3" height="11" fill="#ff0000"/>
<rect x="717" y="237" width="1" height="9" fill="#ff4500"/>
<rect x="721" y="155" width="1" height="91" fill="#ff0000"/>
<rect x="720" y="160" width="3" height="76" fill="#ff0000"/>
<rect x="721" y="161" width="1" height="74" fill="#ff4500"/>
<rect x="725" y="150" width="1" height="62" fill="#32cd32"/>
<rect x="724" y="161" width="3" height="39" fill="#32cd32"/>
<rect x="729" y="183" width="1" height="101" fill="#32cd32"/>
<rect x="728" y="199" width="3" height="79" fill="#32cd32"/>
<rect x="733" y="252" width="1" height="40" fill="#ff0000"/>
<rect x="732" y="269" width="3" height="9" fill="#ff0000"/>
<rect x="733" y="270" width="1" height="7" fill="#ff4500"/>
<rect x="737" y="261" width="1" height="14" fill="#ff0000"/>
<rect x="736" y="265" width="3" height="5" fill="#ff0000"/>
<rect x="737" y="266" width="1" height="3" fill="#ff4500"/>
<rect x="741" y="253" width="1" height="25" fill="#32cd32"/>
<rect x="740" y="265" width="3" height="3" fill="#32cd32"/>
<rect x="745" y="259" width="1" height="16" fill="#ff0000"/>
<rect x="744" y="264" width="3" height="4" fill="#ff0000"/>
<rect x="745" y="265" width="1" height="2" fill="#ff4500"/>
<rect x="749" y="260" width="1" height="29" fill="#32cd32"/>
<rect x="748" y="264" width="3" height="10" fill="#32cd32"/>
<rect x="753" y="265" width="1" height="22" fill="#32cd32"/>
<rect x="752" y="272" width="3" height="9" fill="#32cd32"/>
<rect x="757" y="232" width="1" height="51" fill="#ff0000"/>
<rect x="756" y="238" width="3" height="43" fill="#ff0000"/>
<rect x="757" y="239" width="1" height="41" fill="#ff4500"/>
<rect x="761" y="235" width="1" height="11" fill="#32cd32"/>
<rect x="760" y="238" width="3" height="6" fill="#32cd32"/>
<rect x="765" y="225" width="1" height="27" fill="#ff0000"/>
<rect x="764" y="231" width="3" height="5" fill="#ff0000"/>
<rect x="765" y="232" width="1" height="3" fill="#ff4500"/>
<rect x="769" y="222" width="1" height="20" fill="#ff0000"/>
<rect x="768" y="227" width="3" height="5" fill="#ff0000"/>
<rect x="769" y="228" width="1" height="3" fill="#ff4500"/>
<rect x="773" y="216" width="1" height="34" fill="#32cd32"/>
<rect x="772" y="227" width="3" height="19" fill="#32cd32"/>
<rect x="777" y="236" width="1" height="18" fill="#32cd32"/>
<rect x="776" y="245" width="3" height="2" fill="#32cd32"/>
<rect x="781" y="230" width="1" height="18" fill="#ff0000"/>
<rect x="780" y="243" width="3" height="3" fill="#ff0000"/>
<rect x="781" y="244" width="1" height="1" fill="#ff4500"/>
<rect x="785" y="241" width="1" height="9" fill="#32cd32"/>
<rect x="784" y="243" width="3" height="6" fill="#32cd32"/>
<rect x="789" y="237" width="1" height="12" fill="#32cd32"/>
<rect x="788" y="240" width="3" height="8" fill="#32cd32"/>
<rect x="793" y="212" width="1" height="41" fill="#ff0000"/>
<rect x="792" y="212" width="3" height="36" fill="#ff0000"/>
<rect x="793" y="213" width="1" height="34" fill="#ff4500"/>
<rect x="797" y="208" width="1" height="32" fill="#32cd32"/>
<rect x="796" y="212" width="3" height="18" fill="#32cd32"/>
<rect x="801" y="195" width="1" height="47" fill="#ff0000"/>
<rect x="800" y="208" width="3" height="22" fill="#ff0000"/>
<rect x="801" y="209" width="1" height="20" fill="#ff4500"/>
<rect x="805" y="185" width="1" height="26" fill="#ff0000"/>
<rect x="804" y="195" width="3" height="14" fill="#ff0000"/>
<rect x="805" y="196" width="1" height="12" fill="#ff4500"/>
<rect x="809" y="195" width="1" height="12" fill="#32cd32"/>
<rect x="808" y="195" width="3" height="11" fill="#32cd32"/>
<rect x="813" y="201" width="1" height="36" fill="#32cd32"/>
<rect x="812" y="201" width="3" height="35" fill="#32cd32"/>
<rect x="817" y="229" width="1" height="38" fill="#32cd32"/>
<rect x="816" y="234" width="3" height="23" fill="#32cd32"/>
<rect x="821" y="241" width="1" height="22" fill="#ff0000"/>
<rect x="820" y="256" width="3" height="1" fill="#ff0000"/>
<rect x="825" y="231" width="1" height="32" fill="#ff0000"/>
<rect x="824" y="240" width="3" height="17" fill="#ff0000"/>
<rect x="825" y="241" width="1" height="15" fill="#ff4500"/>
<rect x="829" y="227" width="1" height="45" fill="#32cd32"/>
<rect x="828" y="240" width="3" height="31" fill="#32cd32"/>
<rect x="833" y="267" width="1" height="11" fill="#32cd32"/>
<rect x="832" y="270" width="3" height="2" fill="#32cd32"/>
<rect x="837" y="260" width="1" height="12" fill="#ff0000"/>
<rect x="836" y="268" width="3" height="4" fill="#ff0000"/>
<rect x="837" y="269" width="1" height="2" fill="#ff4500"/>
<rect x="841" y="254" width="1" height="46" fill="#32cd32"/>
<rect x="840" y="268" width="3" height="18" fill="#32cd32"/>
<rect x="845" y="268" width="1" height="30" fill="#32cd32"/>
<rect x="844" y="284" width="3" height="13" fill="#32cd32"/>
<rect x="849" y="277" width="1" height="23" fill="#ff0000"/>
<rect x="848" y="296" width="3" height="1" fill="#ff0000"/>
<rect x="853" y="281" width="1" height="61" fill="#32cd32"/>
<rect x="852" y="296" width="3" height="22" fill="#32cd32"/>
<rect x="857" y="314" width="1" height="11" fill="#ff0000"/>
<rect x="856" y="316" width="3" height="2" fill="#ff0000"/>
<rect x="861" y="284" width="1" height="32" fill="#ff0000"/>
<rect x="860" y="292" width="3" height="24" fill="#ff0000"/>
<rect x="861" y="293" width="1" height="22" fill="#ff4500"/>
<rect x="865" y="267" width="1" height="33" fill="#ff0000"/>
<rect x="864" y="277" width="3" height="16" fill="#ff0000"/>
<rect x="865" y="278" width="1" height="14" fill="#ff4500"/>
<rect x="869" y="270" width="1" height="16" fill="#32cd32"/>
<rect x="868" y="277" width="3" height="2" fill="#32cd32"/>
<rect x="873" y="271" width="1" height="28" fill="#32cd32"/>
<rect x="872" y="277" width="3" height="17" fill="#32cd32"/>
<rect x="877" y="285" width="1" height="53" fill="#32cd32"/>
<rect x="876" y="295" width="3" height="19" fill="#32cd32"/>
<rect x="881" y="307" width="1" height="11" fill="#ff0000"/>
<rect x="880" y="309" width="3" height="5" fill="#ff0000"/>
<rect x="881" y="310" width="1" height="3" fill="#ff4500"/>
<rect x="885" y="287" width="1" height="25" fill="#ff0000"/>
<rect x="884" y="308" width="3" height="3" fill="#ff0000"/>
<rect x="885" y="309" width="1" height="1" fill="#ff4500"/>
<rect x="889" y="299" width="1" height="33" fill="#32cd32"/>
<rect x="888" y="308" width="3" height="18" fill="#32cd32"/>
<rect x="893" y="306" width="1" height="33" fill="#32cd32"/>
<rect x="892" y="325" width="3" height="11" fill="#32cd32"/>
<rect x="897" y="286" width="1" height="55" fill="#ff0000"/>
<rect x="896" y="290" width="3" height="46" fill="#ff0000"/>
<rect x="897" y="291" width="1" height="44" fill="#ff4500"/>
<rect x="901" y="257" width="1" height="48" fill="#ff0000"/>
<rect x="900" y="261" width="3" height="30" fill="#ff0000"/>
<rect x="901" y="262" width="1" height="28" fill="#ff4500"/>
<rect x="905" y="254" width="1" height="10" fill="#ff0000"/>
<rect x="904" y="258" width="3" height="3" fill="#ff0000"/>
<rect x="905" y="259" width="1" height="1" fill="#ff4500"/>
<rect x="909" y="225" width="1" height="33" fill="#ff0000"/>
<rect x="908" y="235" width="3" height="17" fill="#ff0000"/>
<rect x="909" y="236" width="1" height="15" fill="#ff4500"/>
<rect x="913" y="225" width="1" height="30" fill="#ff0000"/>
<rect x="912" y="234" width="3" height="2" fill="#ff0000"/>
<rect x="917" y="227" width="1" height="56" fill="#32cd32"/>
<rect x="916" y="234" width="3" height="47" fill="#32cd32"/>
<rect x="921" y="248" width="1" height="43" fill="#ff0000"/>
<rect x="920" y="270" width="3" height="11" fill="#ff0000"/>
<rect x="921" y="271" width="1" height="9" fill="#ff4500"/>
<rect x="925" y="269" width="1" height="13" fill="#32cd32"/>
<rect x="924" y="271" width="3" height="2" fill="#32cd32"/>
</g>
<rect x="4.5" y="22.5" width="1163" height="460" fill="none" stroke="#000" stroke-width="1"/>
<rect x="4.5" y="484.5" width="1163" height="84" fill="none" stroke="#000" stroke-width="1"/>
<rect x="4.5" y="570.5" width="1163" height="87" fill="none" stroke="#000" stroke-width="1"/>
<rect x="1168" y="50" width="2" height="1" fill="#000"/>
<text x="1172.54" y="54" font-size="9.8" stroke="#000" stroke-width="0.15" fill="#000" textLength="33.28" lengthAdjust="spacingAndGlyphs">6.58350</text>
<rect x="1168" y="83" width="2" height="1" fill="#000"/>
<text x="1172.54" y="87" font-size="9.8" stroke="#000" stroke-width="0.15" fill="#000" textLength="33.28" lengthAdjust="spacingAndGlyphs">6.56550</text>
<rect x="1168" y="116" width="2" height="1" fill="#000"/>
<text x="1172.54" y="120" font-size="9.8" stroke="#000" stroke-width="0.15" fill="#000" textLength="33.28" lengthAdjust="spacingAndGlyphs">6.54750</text>
<rect x="1168" y="149" width="2" height="1" fill="#000"/>
<text x="1172.54" y="153" font-size="9.8" stroke="#000" stroke-width="0.15" fill="#000" textLength="33.28" lengthAdjust="spacingAndGlyphs">6.52900</text>
<rect x="1168" y="182" width="2" height="1" fill="#000"/>
<text x="1172.53" y="186" font-size="9.8" stroke="#000" stroke-width="0.15" fill="#000" textLength="33.31" lengthAdjust="spacingAndGlyphs">6.51100</text>
<rect x="1168" y="215" width="2" height="1" fill="#000"/>
<text x="1172.54" y="219" font-size="9.8" stroke="#000" stroke-width="0.15" fill="#000" textLength="33.28" lengthAdjust="spacingAndGlyphs">6.49250</text>
<rect x="1168" y="248" width="2" height="1" fill="#000"/>
<text x="1172.54" y="252" font-size="9.8" stroke="#000" stroke-width="0.15" fill="#000" textLength="33.28" lengthAdjust="spacingAndGlyphs">6.47450</text>
<rect x="1168" y="281" width="2" height="1" fill="#000"/>
<text x="1172.54" y="285" font-size="9.8" stroke="#000" stroke-width="0.15" fill="#000" textLength="33.28" lengthAdjust="spacingAndGlyphs">6.45600</text>
<rect x="1168" y="314" width="2" height="1" fill="#000"/>
<text x="1172.54" y="318" font-size="9.8" stroke="#000" stroke-width="0.15" fill="#000" textLength="33.28" lengthAdjust="spacingAndGlyphs">6.43800</text>
<rect x="1168" y="347" width="2" height="1" fill="#000"/>
<text x="1172.54" y="351" font-size="9.8" stroke="#000" stroke-width="0.15" fill="#000" textLength="33.28" lengthAdjust="spacingAndGlyphs">6.41950</text>
<rect x="1168" y="380" width="2" height="1" fill="#000"/>
<text x="1172.54" y="384" font-size="9.8" stroke="#000" stroke-width="0.15" fill="#000" textLength="33.28" lengthAdjust="spacingAndGlyphs">6.40100</text>
<rect x="1168" y="413" width="2" height="1" fill="#000"/>
<text x="1172.54" y="417" font-size="9.8" stroke="#000" stroke-width="0.15" fill="#000" textLength="33.28" lengthAdjust="spacingAndGlyphs">6.38350</text>
<rect x="1168" y="446" width="2" height="1" fill="#000"/>
<text x="1172.54" y="450" font-size="9.8" stroke="#000" stroke-width="0.15" fill="#000" textLength="33.28" lengthAdjust="spacingAndGlyphs">6.36500</text>
<rect x="1168" y="479" width="2" height="1" fill="#000"/>
<text x="1172.54" y="483" font-size="9.8" stroke="#000" stroke-width="0.15" fill="#000" textLength="33.28" lengthAdjust="spacingAndGlyphs">6.34700</text>
<rect x="1169" y="42" width="40" height="11" fill="#ff0000"/>
<text x="1172.54" y="51" font-size="9.8" stroke="#fff" stroke-width="0.15" fill="#fff" textLength="33.23" lengthAdjust="spacingAndGlyphs">6.58514</text>
<rect x="1169" y="167" width="40" height="11" fill="#ff0000"/>
<text x="1172.54" y="176" font-size="9.8" stroke="#fff" stroke-width="0.15" fill="#fff" textLength="33.33" lengthAdjust="spacingAndGlyphs">6.51605</text>
<rect x="1169" y="267" width="40" height="11" fill="#000000"/>
<text x="1172.54" y="276" font-size="9.8" stroke="#fff" stroke-width="0.15" fill="#fff" textLength="33.23" lengthAdjust="spacingAndGlyphs">6.46144</text>
<rect x="1169" y="285" width="40" height="11" fill="#00ff00"/>
<text x="1172.54" y="294" font-size="9.8" stroke="#fff" stroke-width="0.15" fill="#fff" textLength="33.28" lengthAdjust="spacingAndGlyphs">6.45060</text>
<rect x="1169" y="376" width="40" height="11" fill="#0000ff"/>
<text x="1172.54" y="385" font-size="9.8" stroke="#fff" stroke-width="0.15" fill="#fff" textLength="33.42" lengthAdjust="spacingAndGlyphs">6.40042</text>
<rect x="1169" y="467" width="40" height="11" fill="#0000ff"/>
<text x="1172.54" y="476" font-size="9.8" stroke="#fff" stroke-width="0.15" fill="#fff" textLength="33.33" lengthAdjust="spacingAndGlyphs">6.35025</text>
<polygon points="8,33.5 11.5,29.5 15,33.5" fill="#000"/>
<text x="19.67" y="34.3" font-size="9.8" stroke="#000" stroke-width="0.15" fill="#000" textLength="66.12" lengthAdjust="spacingAndGlyphs">USDCNH,Daily</text>
<text x="91.84" y="34.3" font-size="9.8" stroke="#000" stroke-width="0.15" fill="#000" textLength="140.76" lengthAdjust="spacingAndGlyphs">6.46194 6.46270 6.45631 6.46144</text>
<g clip-path="url(#cmacd)" shape-rendering="crispEdges">
<rect x="4" y="523" width="3" height="19" fill="#c0c0c0"/>
<rect x="8" y="523" width="3" height="21" fill="#c0c0c0"/>
<rect x="12" y="523" width="3" height="22" fill="#c0c0c0"/>
<rect x="16" y="523" width="3" height="22" fill="#c0c0c0"/>
<rect x="20" y="523" width="3" height="28" fill="#c0c0c0"/>
<rect x="24" y="523" width="3" height="34" fill="#c0c0c0"/>
<rect x="28" y="523" width="3" height="36" fill="#c0c0c0"/>
<rect x="32" y="523" width="3" height="36" fill="#c0c0c0"/>
<rect x="36" y="523" width="3" height="37" fill="#c0c0c0"/>
<rect x="40" y="523" width="3" height="36" fill="#c0c0c0"/>
<rect x="44" y="523" width="3" height="33" fill="#c0c0c0"/>
<rect x="48" y="523" width="3" height="33" fill="#c0c0c0"/>
<rect x="52" y="523" width="3" height="32" fill="#c0c0c0"/>
<rect x="56" y="523" width="3" height="30" fill="#c0c0c0"/>
<rect x="60" y="523" width="3" height="27" fill="#c0c0c0"/>
<rect x="64" y="523" width="3" height="23" fill="#c0c0c0"/>
<rect x="68" y="523" width="3" height="19" fill="#c0c0c0"/>
<rect x="72" y="523" width="3" height="18" fill="#c0c0c0"/>
<rect x="76" y="523" width="3" height="19" fill="#c0c0c0"/>
<rect x="80" y="523" width="3" height="19" fill="#c0c0c0"/>
<rect x="84" y="523" width="3" height="15" fill="#c0c0c0"/>
<rect x="88" y="523" width="3" height="11" fill="#c0c0c0"/>
<rect x="92" y="523" width="3" height="9" fill="#c0c0c0"/>
<rect x="96" y="523" width="3" height="10" fill="#c0c0c0"/>
<rect x="100" y="523" width="3" height="8" fill="#c0c0c0"/>
<rect x="104" y="523" width="3" height="8" fill="#c0c0c0"/>
<rect x="108" y="523" width="3" height="12" fill="#c0c0c0"/>
<rect x="112" y="523" width="3" height="14" fill="#c0c0c0"/>
<rect x="116" y="523" width="3" height="13" fill="#c0c0c0"/>
<rect x="120" y="523" width="3" height="13" fill="#c0c0c0"/>
<rect x="124" y="523" width="3" height="13" fill="#c0c0c0"/>
<rect x="128" y="523" width="3" height="11" fill="#c0c0c0"/>
<rect x="132" y="523" width="3" height="11" fill="#c0c0c0"/>
<rect x="136" y="523" width="3" height="12" fill="#c0c0c0"/>
<rect x="140" y="523" width="3" height="14" fill="#c0c0c0"/>
<rect x="144" y="523" width="3" height="18" fill="#c0c0c0"/>
<rect x="148" y="523" width="3" height="20" fill="#c0c0c0"/>
<rect x="152" y="523" width="3" height="23" fill="#c0c0c0"/>
<rect x="156" y="523" width="3" height="24" fill="#c0c0c0"/>
<rect x="160" y="523" width="3" height="25" fill="#c0c0c0"/>
<rect x="164" y="523" width="3" height="28" fill="#c0c0c0"/>
<rect x="168" y="523" width="3" height="27" fill="#c0c0c0"/>
<rect x="172" y="523" width="3" height="23" fill="#c0c0c0"/>
<rect x="176" y="523" width="3" height="17" fill="#c0c0c0"/>
<rect x="180" y="523" width="3" height="14" fill="#c0c0c0"/>
<rect x="184" y="523" width="3" height="11" fill="#c0c0c0"/>
<rect x="188" y="523" width="3" height="6" fill="#c0c0c0"/>
<rect x="192" y="523" width="3" height="5" fill="#c0c0c0"/>
<rect x="196" y="523" width="3" height="4" fill="#c0c0c0"/>
<rect x="200" y="523" width="3" height="2" fill="#c0c0c0"/>
<rect x="204" y="522" width="3" height="1" fill="#c0c0c0"/>
<rect x="208" y="519" width="3" height="4" fill="#c0c0c0"/>
<rect x="212" y="519" width="3" height="4" fill="#c0c0c0"/>
<rect x="216" y="517" width="3" height="6" fill="#c0c0c0"/>
<rect x="220" y="517" width="3" height="6" fill="#c0c0c0"/>
<rect x="224" y="516" width="3" height="7" fill="#c0c0c0"/>
<rect x="228" y="511" width="3" height="12" fill="#c0c0c0"/>
<rect x="232" y="507" width="3" height="16" fill="#c0c0c0"/>
<rect x="236" y="500" width="3" height="23" fill="#c0c0c0"/>
<rect x="240" y="498" width="3" height="25" fill="#c0c0c0"/>
<rect x="244" y="498" width="3" height="25" fill="#c0c0c0"/>
<rect x="248" y="501" width="3" height="22" fill="#c0c0c0"/>
<rect x="252" y="502" width="3" height="21" fill="#c0c0c0"/>
<rect x="256" y="503" width="3" height="20" fill="#c0c0c0"/>
<rect x="260" y="504" width="3" height="19" fill="#c0c0c0"/>
<rect x="264" y="506" width="3" height="17" fill="#c0c0c0"/>
<rect x="268" y="506" width="3" height="17" fill="#c0c0c0"/>
<rect x="272" y="506" width="3" height="17" fill="#c0c0c0"/>
<rect x="276" y="506" width="3" height="17" fill="#c0c0c0"/>
<rect x="280" y="507" width="3" height="16" fill="#c0c0c0"/>
<rect x="284" y="508" width="3" height="15" fill="#c0c0c0"/>
<rect x="288" y="508" width="3" height="15" fill="#c0c0c0"/>
<rect x="292" y="507" width="3" height="16" fill="#c0c0c0"/>
<rect x="296" y="503" width="3" height="20" fill="#c0c0c0"/>
<rect x="300" y="501" width="3" height="22" fill="#c0c0c0"/>
<rect x="304" y="500" width="3" height="23" fill="#c0c0c0"/>
<rect x="308" y="496" width="3" height="27" fill="#c0c0c0"/>
<rect x="312" y="492" width="3" height="31" fill="#c0c0c0"/>
<rect x="316" y="491" width="3" height="32" fill="#c0c0c0"/>
<rect x="320" y="490" width="3" height="33" fill="#c0c0c0"/>
<rect x="324" y="489" width="3" height="34" fill="#c0c0c0"/>
<rect x="328" y="489" width="3" height="34" fill="#c0c0c0"/>
<rect x="332" y="491" width="3" height="32" fill="#c0c0c0"/>
<rect x="336" y="495" width="3" height="28" fill="#c0c0c0"/>
<rect x="340" y="498" width="3" height="25" fill="#c0c0c0"/>
<rect x="344" y="499" width="3" height="24" fill="#c0c0c0"/>
<rect x="348" y="500" width="3" height="23" fill="#c0c0c0"/>
<rect x="352" y="501" width="3" height="22" fill="#c0c0c0"/>
<rect x="356" y="503" width="3" height="20" fill="#c0c0c0"/>
<rect x="360" y="505" width="3" height="18" fill="#c0c0c0"/>
<rect x="364" y="510" width="3" height="13" fill="#c0c0c0"/>
<rect x="368" y="513" width="3" height="10" fill="#c0c0c0"/>
<rect x="372" y="516" width="3" height="7" fill="#c0c0c0"/>
<rect x="376" y="519" width="3" height="4" fill="#c0c0c0"/>
<rect x="380" y="523" width="3" height="1" fill="#c0c0c0"/>
<rect x="384" y="523" width="3" height="4" fill="#c0c0c0"/>
<rect x="388" y="523" width="3" height="8" fill="#c0c0c0"/>
<rect x="392" y="523" width="3" height="12" fill="#c0c0c0"/>
<rect x="396" y="523" width="3" height="14" fill="#c0c0c0"/>
<rect x="400" y="523" width="3" height="16" fill="#c0c0c0"/>
<rect x="404" y="523" width="3" height="19" fill="#c0c0c0"/>
<rect x="408" y="523" width="3" height="21" fill="#c0c0c0"/>
<rect x="412" y="523" width="3" height="23" fill="#c0c0c0"/>
<rect x="416" y="523" width="3" height="25" fill="#c0c0c0"/>
<rect x="420" y="523" width="3" height="25" fill="#c0c0c0"/>
<rect x="424" y="523" width="3" height="25" fill="#c0c0c0"/>
<rect x="428" y="523" width="3" height="25" fill="#c0c0c0"/>
<rect x="432" y="523" width="3" height="23" fill="#c0c0c0"/>
<rect x="436" y="523" width="3" height="21" fill="#c0c0c0"/>
<rect x="440" y="523" width="3" height="22" fill="#c0c0c0"/>
<rect x="444" y="523" width="3" height="28" fill="#c0c0c0"/>
<rect x="448" y="523" width="3" height="32" fill="#c0c0c0"/>
<rect x="452" y="523" width="3" height="36" fill="#c0c0c0"/>
<rect x="456" y="523" width="3" height="37" fill="#c0c0c0"/>
<rect x="460" y="523" width="3" height="33" fill="#c0c0c0"/>
<rect x="464" y="523" width="3" height="31" fill="#c0c0c0"/>
<rect x="468" y="523" width="3" height="30" fill="#c0c0c0"/>
<rect x="472" y="523" width="3" height="29" fill="#c0c0c0"/>
<rect x="476" y="523" width="3" height="28" fill="#c0c0c0"/>
<rect x="480" y="523" width="3" height="28" fill="#c0c0c0"/>
<rect x="484" y="523" width="3" height="28" fill="#c0c0c0"/>
<rect x="488" y="523" width="3" height="27" fill="#c0c0c0"/>
<rect x="492" y="523" width="3" height="25" fill="#c0c0c0"/>
<rect x="496" y="523" width="3" height="24" fill="#c0c0c0"/>
<rect x="500" y="523" width="3" height="25" fill="#c0c0c0"/>
<rect x="504" y="523" width="3" height="26" fill="#c0c0c0"/>
<rect x="508" y="523" width="3" height="30" fill="#c0c0c0"/>
<rect x="512" y="523" width="3" height="34" fill="#c0c0c0"/>
<rect x="516" y="523" width="3" height="37" fill="#c0c0c0"/>
<rect x="520" y="523" width="3" height="41" fill="#c0c0c0"/>
<rect x="524" y="523" width="3" height="41" fill="#c0c0c0"/>
<rect x="528" y="523" width="3" height="40" fill="#c0c0c0"/>
<rect x="532" y="523" width="3" height="39" fill="#c0c0c0"/>
<rect x="536" y="523" width="3" height="35" fill="#c0c0c0"/>
<rect x="540" y="523" width="3" height="33" fill="#c0c0c0"/>
<rect x="544" y="523" width="3" height="31" fill="#c0c0c0"/>
<rect x="548" y="523" width="3" height="29" fill="#c0c0c0"/>
<rect x="552" y="523" width="3" height="26" fill="#c0c0c0"/>
<rect x="556" y="523" width="3" height="25" fill="#c0c0c0"/>
<rect x="560" y="523" width="3" height="23" fill="#c0c0c0"/>
<rect x="564" y="523" width="3" height="21" fill="#c0c0c0"/>
<rect x="568" y="523" width="3" height="19" fill="#c0c0c0"/>
<rect x="572" y="523" width="3" height="16" fill="#c0c0c0"/>
<rect x="576" y="523" width="3" height="13" fill="#c0c0c0"/>
<rect x="580" y="523" width="3" height="12" fill="#c0c0c0"/>
<rect x="584" y="523" width="3" height="4" fill="#c0c0c0"/>
<rect x="588" y="520" width="3" height="3" fill="#c0c0c0"/>
<rect x="592" y="515" width="3" height="8" fill="#c0c0c0"/>
<rect x="596" y="510" width="3" height="13" fill="#c0c0c0"/>
<rect x="600" y="504" width="3" height="19" fill="#c0c0c0"/>
<rect x="604" y="501" width="3" height="22" fill="#c0c0c0"/>
<rect x="608" y="499" width="3" height="24" fill="#c0c0c0"/>
<rect x="612" y="499" width="3" height="24" fill="#c0c0c0"/>
<rect x="616" y="499" width="3" height="24" fill="#c0c0c0"/>
<rect x="620" y="501" width="3" height="22" fill="#c0c0c0"/>
<rect x="624" y="501" width="3" height="22" fill="#c0c0c0"/>
<rect x="628" y="501" width="3" height="22" fill="#c0c0c0"/>
<rect x="632" y="500" width="3" height="23" fill="#c0c0c0"/>
<rect x="636" y="500" width="3" height="23" fill="#c0c0c0"/>
<rect x="640" y="501" width="3" height="22" fill="#c0c0c0"/>
<rect x="644" y="502" width="3" height="21" fill="#c0c0c0"/>
<rect x="648" y="501" width="3" height="22" fill="#c0c0c0"/>
<rect x="652" y="502" width="3" height="21" fill="#c0c0c0"/>
<rect x="656" y="500" width="3" height="23" fill="#c0c0c0"/>
<rect x="660" y="500" width="3" height="23" fill="#c0c0c0"/>
<rect x="664" y="501" width="3" height="22" fill="#c0c0c0"/>
<rect x="668" y="502" width="3" height="21" fill="#c0c0c0"/>
<rect x="672" y="505" width="3" height="18" fill="#c0c0c0"/>
<rect x="676" y="507" width="3" height="16" fill="#c0c0c0"/>
<rect x="680" y="510" width="3" height="13" fill="#c0c0c0"/>
<rect x="684" y="510" width="3" height="13" fill="#c0c0c0"/>
<rect x="688" y="510" width="3" height="13" fill="#c0c0c0"/>
<rect x="692" y="509" width="3" height="14" fill="#c0c0c0"/>
<rect x="696" y="509" width="3" height="14" fill="#c0c0c0"/>
<rect x="700" y="511" width="3" height="12" fill="#c0c0c0"/>
<rect x="704" y="512" width="3" height="11" fill="#c0c0c0"/>
<rect x="708" y="512" width="3" height="11" fill="#c0c0c0"/>
<rect x="712" y="513" width="3" height="10" fill="#c0c0c0"/>
<rect x="716" y="513" width="3" height="10" fill="#c0c0c0"/>
<rect x="720" y="508" width="3" height="15" fill="#c0c0c0"/>
<rect x="724" y="507" width="3" height="16" fill="#c0c0c0"/>
<rect x="728" y="512" width="3" height="11" fill="#c0c0c0"/>
<rect x="732" y="515" width="3" height="8" fill="#c0c0c0"/>
<rect x="736" y="517" width="3" height="6" fill="#c0c0c0"/>
<rect x="740" y="519" width="3" height="4" fill="#c0c0c0"/>
<rect x="744" y="520" width="3" height="3" fill="#c0c0c0"/>
<rect x="748" y="522" width="3" height="1" fill="#c0c0c0"/>
<rect x="752" y="523" width="3" height="1" fill="#c0c0c0"/>
<rect x="756" y="523" width="3" height="1" fill="#c0c0c0"/>
<rect x="760" y="522" width="3" height="1" fill="#c0c0c0"/>
<rect x="764" y="521" width="3" height="2" fill="#c0c0c0"/>
<rect x="768" y="519" width="3" height="4" fill="#c0c0c0"/>
<rect x="772" y="519" width="3" height="4" fill="#c0c0c0"/>
<rect x="776" y="520" width="3" height="3" fill="#c0c0c0"/>
<rect x="780" y="520" width="3" height="3" fill="#c0c0c0"/>
<rect x="784" y="520" width="3" height="3" fill="#c0c0c0"/>
<rect x="788" y="521" width="3" height="2" fill="#c0c0c0"/>
<rect x="792" y="518" width="3" height="5" fill="#c0c0c0"/>
<rect x="796" y="518" width="3" height="5" fill="#c0c0c0"/>
<rect x="800" y="516" width="3" height="7" fill="#c0c0c0"/>
<rect x="804" y="514" width="3" height="9" fill="#c0c0c0"/>
<rect x="808" y="513" width="3" height="10" fill="#c0c0c0"/>
<rect x="812" y="515" width="3" height="8" fill="#c0c0c0"/>
<rect x="816" y="517" width="3" height="6" fill="#c0c0c0"/>
<rect x="820" y="519" width="3" height="4" fill="#c0c0c0"/>
<rect x="824" y="520" width="3" height="3" fill="#c0c0c0"/>
<rect x="828" y="522" width="3" height="1" fill="#c0c0c0"/>
<rect x="832" y="523" width="3" height="2" fill="#c0c0c0"/>
<rect x="836" y="523" width="3" height="3" fill="#c0c0c0"/>
<rect x="840" y="523" width="3" height="5" fill="#c0c0c0"/>
<rect x="844" y="523" width="3" height="8" fill="#c0c0c0"/>
<rect x="848" y="523" width="3" height="9" fill="#c0c0c0"/>
<rect x="852" y="523" width="3" height="12" fill="#c0c0c0"/>
<rect x="856" y="523" width="3" height="14" fill="#c0c0c0"/>
<rect x="860" y="523" width="3" height="13" fill="#c0c0c0"/>
<rect x="864" y="523" width="3" height="12" fill="#c0c0c0"/>
<rect x="868" y="523" width="3" height="11" fill="#c0c0c0"/>
<rect x="872" y="523" width="3" height="11" fill="#c0c0c0"/>
<rect x="876" y="523" width="3" height="12" fill="#c0c0c0"/>
<rect x="880" y="523" width="3" height="13" fill="#c0c0c0"/>
<rect x="884" y="523" width="3" height="13" fill="#c0c0c0"/>
<rect x="888" y="523" width="3" height="14" fill="#c0c0c0"/>
<rect x="892" y="523" width="3" height="15" fill="#c0c0c0"/>
<rect x="896" y="523" width="3" height="13" fill="#c0c0c0"/>
<rect x="900" y="523" width="3" height="10" fill="#c0c0c0"/>
<rect x="904" y="523" width="3" height="6" fill="#c0c0c0"/>
<rect x="908" y="523" width="3" height="2" fill="#c0c0c0"/>
<rect x="912" y="522" width="3" height="1" fill="#c0c0c0"/>
<rect x="916" y="522" width="3" height="1" fill="#c0c0c0"/>
<rect x="920" y="522" width="3" height="1" fill="#c0c0c0"/>
<rect x="924" y="522" width="3" height="1" fill="#c0c0c0"/>
</g>
<polyline clip-path="url(#cmacd)" points="5.5,545.4 9.5,544.3 13.5,543.5 17.5,543.1 21.5,543.6 25.5,545.0 29.5,547.0 33.5,549.0 37.5,551.2 41.5,553.0 45.5,554.4 49.5,555.7 53.5,556.8 57.5,557.0 61.5,556.2 65.5,554.8 69.5,553.0 73.5,550.9 77.5,549.0 81.5,547.4 85.5,545.4 89.5,543.1 93.5,540.8 97.5,539.0 101.5,537.3 105.5,536.0 109.5,535.4 113.5,534.9 117.5,534.3 121.5,534.0 125.5,534.2 129.5,534.3 133.5,534.5 137.5,534.9 141.5,535.6 145.5,536.2 149.5,536.9 153.5,538.0 157.5,539.3 161.5,540.7 165.5,542.5 169.5,544.2 173.5,545.5 177.5,545.9 181.5,545.4 185.5,544.4 189.5,542.5 193.5,540.3 197.5,538.0 201.5,535.2 205.5,532.1 209.5,529.0 213.5,526.6 217.5,524.4 221.5,522.6 225.5,521.1 229.5,519.2 233.5,517.0 237.5,514.2 241.5,511.4 245.5,509.1 249.5,507.1 253.5,505.4 257.5,503.9 261.5,502.6 265.5,502.0 269.5,501.9 273.5,502.6 277.5,503.6 281.5,504.6 285.5,505.4 289.5,506.1 293.5,506.5 297.5,506.3 301.5,505.8 305.5,505.2 309.5,504.0 313.5,502.4 317.5,500.7 321.5,498.6 325.5,496.5 329.5,494.5 333.5,493.2 337.5,492.5 341.5,492.2 345.5,492.6 349.5,493.4 353.5,494.5 357.5,495.9 361.5,497.8 365.5,500.1 369.5,502.5 373.5,504.9 377.5,507.3 381.5,509.9 385.5,512.9 389.5,516.3 393.5,519.9 397.5,523.4 401.5,526.7 405.5,529.9 409.5,533.0 413.5,536.0 417.5,538.8 421.5,541.1 425.5,543.0 429.5,544.5 433.5,545.5 437.5,546.0 441.5,546.3 445.5,547.1 449.5,548.2 453.5,549.5 457.5,550.8 461.5,551.7 465.5,552.3 469.5,553.1 473.5,554.0 477.5,554.6 481.5,554.7 485.5,554.2 489.5,553.1 493.5,551.8 497.5,550.7 501.5,550.1 505.5,549.7 509.5,549.8 513.5,550.4 517.5,551.4 521.5,552.8 525.5,554.4 529.5,556.1 533.5,557.8 537.5,558.9 541.5,559.6 545.5,559.7 549.5,559.2 553.5,557.9 557.5,556.2 561.5,554.2 565.5,552.0 569.5,549.8 573.5,547.6 577.5,545.3 581.5,543.2 585.5,540.5 589.5,537.3 593.5,533.7 597.5,529.7 601.5,525.3 605.5,520.7 609.5,516.3 613.5,512.2 617.5,508.3 621.5,505.3 625.5,503.1 629.5,501.5 633.5,500.5 637.5,500.1 641.5,500.0 645.5,500.4 649.5,500.7 653.5,501.0 657.5,500.9 661.5,500.9 665.5,500.9 669.5,501.1 673.5,501.7 677.5,502.4 681.5,503.3 685.5,504.2 689.5,505.1 693.5,506.1 697.5,507.1 701.5,508.2 705.5,509.3 709.5,510.1 713.5,510.7 717.5,511.0 721.5,510.8 725.5,510.5 729.5,510.8 733.5,511.4 737.5,512.0 741.5,512.8 745.5,513.8 749.5,514.8 753.5,516.0 757.5,517.6 761.5,519.3 765.5,520.3 769.5,520.8 773.5,521.1 777.5,521.2 781.5,521.1 785.5,520.9 789.5,520.5 793.5,520.0 797.5,519.6 801.5,519.1 805.5,518.5 809.5,517.8 813.5,517.2 817.5,517.0 821.5,516.9 825.5,516.8 829.5,517.3 833.5,518.0 837.5,519.1 841.5,520.6 845.5,522.5 849.5,524.5 853.5,526.5 857.5,528.4 861.5,530.2 865.5,531.6 869.5,532.7 873.5,533.6 877.5,534.4 881.5,534.9 885.5,535.3 889.5,535.6 893.5,535.8 897.5,535.8 901.5,535.5 905.5,535.0 909.5,534.0 913.5,532.5 917.5,531.1 921.5,529.5 925.5,527.9" fill="none" stroke="#ff0000" stroke-width="1" shape-rendering="crispEdges"/>
<text x="8.85" y="497" font-size="9.8" stroke="#000" stroke-width="0.15" fill="#000" textLength="151.46" lengthAdjust="spacingAndGlyphs">MACD(12,26,9) 0.000577 -0.003284</text>
<text x="1170.93" y="495" font-size="9.8" stroke="#000" stroke-width="0.15" fill="#000" textLength="38.96" lengthAdjust="spacingAndGlyphs">0.025108</text>
<text x="1170.93" y="526.8" font-size="9.8" stroke="#000" stroke-width="0.15" fill="#000" textLength="18.01" lengthAdjust="spacingAndGlyphs">0.00</text>
<text x="1170.58" y="566" font-size="9.8" stroke="#000" stroke-width="0.15" fill="#000" textLength="41.83" lengthAdjust="spacingAndGlyphs">-0.029881</text>
<rect x="1168" y="486" width="1" height="1" fill="#000"/>
<rect x="1168" y="523" width="1" height="1" fill="#000"/>
<g shape-rendering="crispEdges">
<line x1="6" y1="597.5" x2="1167" y2="597.5" stroke="#c0c0c0" stroke-dasharray="3,3"/>
<line x1="6" y1="631.5" x2="1167" y2="631.5" stroke="#c0c0c0" stroke-dasharray="3,3"/>
</g>
<polyline clip-path="url(#crsi)" points="5.5,624.7 9.5,626.3 13.5,624.9 17.5,623.8 21.5,633.1 25.5,634.6 29.5,630.1 33.5,624.5 37.5,627.0 41.5,623.9 45.5,620.9 49.5,624.4 53.5,623.0 57.5,620.5 61.5,617.5 65.5,616.8 69.5,613.5 73.5,618.4 77.5,622.1 81.5,620.5 85.5,613.1 89.5,612.3 93.5,614.2 97.5,619.0 101.5,613.0 105.5,617.5 109.5,623.7 113.5,621.4 117.5,615.2 121.5,618.0 125.5,617.9 129.5,614.9 133.5,618.0 137.5,618.4 141.5,622.2 145.5,625.7 149.5,623.7 153.5,625.4 157.5,624.2 161.5,624.5 165.5,627.5 169.5,621.8 173.5,615.7 177.5,610.0 181.5,613.5 185.5,612.1 189.5,609.6 193.5,612.7 197.5,614.4 201.5,612.7 205.5,609.0 209.5,607.2 213.5,612.7 217.5,610.2 221.5,611.9 225.5,611.0 229.5,601.9 233.5,603.6 237.5,598.3 241.5,604.8 245.5,607.8 249.5,612.9 253.5,610.4 257.5,611.0 261.5,610.6 265.5,610.7 269.5,608.8 273.5,610.3 277.5,608.5 281.5,609.8 285.5,611.1 289.5,608.4 293.5,605.5 297.5,600.3 301.5,603.4 305.5,603.5 309.5,597.4 313.5,597.2 317.5,601.3 321.5,599.2 325.5,600.2 329.5,600.1 333.5,606.4 337.5,611.9 341.5,610.0 345.5,606.6 349.5,607.7 353.5,607.1 357.5,610.4 361.5,612.2 365.5,618.2 369.5,618.2 373.5,619.0 377.5,617.9 381.5,623.2 385.5,626.1 389.5,628.7 393.5,627.7 397.5,627.7 401.5,628.7 405.5,631.9 409.5,629.9 413.5,631.1 417.5,632.9 421.5,631.3 425.5,628.9 429.5,629.1 433.5,620.5 437.5,621.5 441.5,627.8 445.5,637.7 449.5,636.8 453.5,638.1 457.5,629.5 461.5,618.9 465.5,620.6 469.5,623.3 473.5,623.6 477.5,621.6 481.5,626.0 485.5,624.3 489.5,622.8 493.5,620.4 497.5,621.4 501.5,626.7 505.5,628.3 509.5,632.6 513.5,634.0 517.5,635.8 521.5,636.6 525.5,631.8 529.5,626.8 533.5,627.7 537.5,619.9 541.5,622.6 545.5,622.0 549.5,622.0 553.5,618.4 557.5,622.0 561.5,621.1 565.5,617.3 569.5,618.7 573.5,614.1 577.5,613.3 581.5,618.5 585.5,602.0 589.5,601.8 593.5,602.3 597.5,599.3 601.5,597.3 605.5,600.9 609.5,601.4 613.5,606.4 617.5,606.0 621.5,607.6 625.5,605.3 629.5,605.3 633.5,603.3 637.5,602.5 641.5,604.8 645.5,608.6 649.5,602.9 653.5,606.8 657.5,600.9 661.5,605.4 665.5,607.1 669.5,608.8 673.5,612.0 677.5,613.6 681.5,614.2 685.5,607.6 689.5,610.5 693.5,605.8 697.5,607.6 701.5,615.0 705.5,611.3 709.5,609.5 713.5,612.3 717.5,610.2 721.5,600.5 725.5,607.4 729.5,617.8 733.5,616.6 737.5,616.1 741.5,616.4 745.5,615.9 749.5,617.3 753.5,618.3 757.5,611.6 761.5,612.5 765.5,610.6 769.5,610.0 773.5,613.3 777.5,613.5 781.5,612.8 785.5,614.0 789.5,613.8 793.5,606.9 797.5,610.9 801.5,607.1 805.5,605.0 809.5,607.6 813.5,614.1 817.5,617.7 821.5,617.7 825.5,614.3 829.5,619.9 833.5,620.1 837.5,619.2 841.5,622.3 845.5,624.3 849.5,624.0 853.5,627.5 857.5,627.0 861.5,620.3 865.5,616.6 869.5,617.0 873.5,620.3 877.5,624.0 881.5,622.7 885.5,622.4 889.5,625.9 893.5,627.6 897.5,615.4 901.5,609.6 905.5,609.0 909.5,605.0 913.5,604.9 917.5,615.3 921.5,613.3 925.5,613.8" fill="none" stroke="#1e90ff" stroke-width="1" shape-rendering="crispEdges"/>
<text x="8.86" y="583" font-size="9.8" stroke="#000" stroke-width="0.15" fill="#000" textLength="68.09" lengthAdjust="spacingAndGlyphs">RSI(14) 50.7929</text>
<text x="1170.59" y="580.9" font-size="9.8" stroke="#000" stroke-width="0.15" fill="#000" textLength="15.77" lengthAdjust="spacingAndGlyphs">100</text>
<text x="1170.87" y="600.5" font-size="9.8" stroke="#000" stroke-width="0.15" fill="#000" textLength="9.66" lengthAdjust="spacingAndGlyphs">70</text>
<text x="1170.96" y="634.9" font-size="9.8" stroke="#000" stroke-width="0.15" fill="#000" textLength="9.57" lengthAdjust="spacingAndGlyphs">30</text>
<text x="1170.91" y="653.6" font-size="9.8" stroke="#000" stroke-width="0.15" fill="#000" textLength="5.45" lengthAdjust="spacingAndGlyphs">0</text>
<rect x="1168" y="571" width="1" height="1" fill="#000"/>
<rect x="1168" y="597" width="1" height="1" fill="#000"/>
<rect x="1168" y="631" width="1" height="1" fill="#000"/>
<rect x="1168" y="656" width="1" height="1" fill="#000"/>
<rect x="5" y="658" width="1" height="3" fill="#000"/>
<text x="3.63" y="670" font-size="9.8" stroke="#000" stroke-width="0.15" fill="#000" textLength="53.01" lengthAdjust="spacingAndGlyphs">30 Dec 2020</text>
<rect x="69" y="658" width="1" height="3" fill="#000"/>
<text x="67.21" y="670" font-size="9.8" stroke="#000" stroke-width="0.15" fill="#000" textLength="50.71" lengthAdjust="spacingAndGlyphs">18 Jan 2021</text>
<rect x="133" y="658" width="1" height="3" fill="#000"/>
<text x="131.63" y="670" font-size="9.8" stroke="#000" stroke-width="0.15" fill="#000" textLength="47.09" lengthAdjust="spacingAndGlyphs">5 Feb 2021</text>
<rect x="197" y="658" width="1" height="3" fill="#000"/>
<text x="196.04" y="670" font-size="9.8" stroke="#000" stroke-width="0.15" fill="#000" textLength="52.09" lengthAdjust="spacingAndGlyphs">24 Feb 2021</text>
<rect x="261" y="658" width="1" height="3" fill="#000"/>
<text x="259.91" y="670" font-size="9.8" stroke="#000" stroke-width="0.15" fill="#000" textLength="51.81" lengthAdjust="spacingAndGlyphs">15 Mar 2021</text>
<rect x="325" y="658" width="1" height="3" fill="#000"/>
<text x="324.03" y="670" font-size="9.8" stroke="#000" stroke-width="0.15" fill="#000" textLength="45.93" lengthAdjust="spacingAndGlyphs">2 Apr 2021</text>
<rect x="389" y="658" width="1" height="3" fill="#000"/>
<text x="387.53" y="670" font-size="9.8" stroke="#000" stroke-width="0.15" fill="#000" textLength="51.09" lengthAdjust="spacingAndGlyphs">21 Apr 2021</text>
<rect x="453" y="658" width="1" height="3" fill="#000"/>
<text x="451.28" y="670" font-size="9.8" stroke="#000" stroke-width="0.15" fill="#000" textLength="55.67" lengthAdjust="spacingAndGlyphs">10 May 2021</text>
<rect x="517" y="658" width="1" height="3" fill="#000"/>
<text x="515.82" y="670" font-size="9.8" stroke="#000" stroke-width="0.15" fill="#000" textLength="55.23" lengthAdjust="spacingAndGlyphs">28 May 2021</text>
<rect x="581" y="658" width="1" height="3" fill="#000"/>
<text x="579.72" y="670" font-size="9.8" stroke="#000" stroke-width="0.15" fill="#000" textLength="49.99" lengthAdjust="spacingAndGlyphs">16 Jun 2021</text>
<rect x="645" y="658" width="1" height="3" fill="#000"/>
<text x="643.83" y="670" font-size="9.8" stroke="#000" stroke-width="0.15" fill="#000" textLength="42.28" lengthAdjust="spacingAndGlyphs">5 Jul 2021</text>
<rect x="709" y="658" width="1" height="3" fill="#000"/>
<text x="708.25" y="670" font-size="9.8" stroke="#000" stroke-width="0.15" fill="#000" textLength="46.26" lengthAdjust="spacingAndGlyphs">23 Jul 2021</text>
<rect x="773" y="658" width="1" height="3" fill="#000"/>
<text x="771.79" y="670" font-size="9.8" stroke="#000" stroke-width="0.15" fill="#000" textLength="52.77" lengthAdjust="spacingAndGlyphs">11 Aug 2021</text>
<rect x="837" y="658" width="1" height="3" fill="#000"/>
<text x="835.62" y="670" font-size="9.8" stroke="#000" stroke-width="0.15" fill="#000" textLength="53.43" lengthAdjust="spacingAndGlyphs">30 Aug 2021</text>
<rect x="901" y="658" width="1" height="3" fill="#000"/>
<text x="899.82" y="670" font-size="9.8" stroke="#000" stroke-width="0.15" fill="#000" textLength="51.71" lengthAdjust="spacingAndGlyphs">17 Sep 2021</text>
<rect x="6" y="40" width="223" height="61" fill="#fff"/>
<path d="M8,42 H60 V66 H117 V99 H8 Z" fill="url(#gLow)"/>
<rect x="8" y="42" width="52" height="24" fill="url(#gTab)"/>
<path d="M175,42 H227 V99 H119 V66 H175 Z" fill="url(#gLow)"/>
<rect x="175" y="42" width="52" height="24" fill="url(#gTab)"/>
<path d="M8.5,42.5 H59.5 V66.5 H116.5 V98.5 H8.5 Z" fill="none" stroke="#a00000" stroke-width="1"/>
<path d="M175.5,42.5 H226.5 V98.5 H119.5 V66.5 H175.5 Z" fill="none" stroke="#a00000" stroke-width="1"/>
<rect x="12" y="66" width="44" height="1" fill="#8a0000"/>
<rect x="179" y="66" width="44" height="1" fill="#8a0000"/>
<rect x="12" y="67" width="44" height="1" fill="#ec6a6a"/>
<rect x="179" y="67" width="44" height="1" fill="#ec6a6a"/>
<rect x="62.5" y="42.5" width="110" height="21" fill="#fff" stroke="#a8a8a8" stroke-width="1"/>
<rect x="63.5" y="43.5" width="20" height="19" fill="url(#gBtn)" stroke="#b8b8b8" stroke-width="1"/>
<rect x="151.5" y="43.5" width="20" height="19" fill="url(#gBtn)" stroke="#b8b8b8" stroke-width="1"/>
<polygon points="69.5,51 75.5,51 72.5,54" fill="#4a66b0"/>
<polygon points="158.5,54 164.5,54 161.5,51" fill="#4a66b0"/>
<text x="123.9" y="56.9" font-size="12.3" fill="#000" textLength="24.25" lengthAdjust="spacingAndGlyphs">3.00</text>
<text x="19.92" y="57.9" font-size="12" fill="#fff" textLength="26.12" lengthAdjust="spacingAndGlyphs">SELL</text>
<text x="187.45" y="57.9" font-size="12" fill="#fff" textLength="24.51" lengthAdjust="spacingAndGlyphs">BUY</text>
<text x="27.36" y="93.6" font-size="12.4" font-weight="bold" fill="#fff" textLength="24.71" lengthAdjust="spacingAndGlyphs">6.46</text>
<text x="137.66" y="93.6" font-size="12.4" font-weight="bold" fill="#fff" textLength="24.39" lengthAdjust="spacingAndGlyphs">6.46</text>
<text x="54.08" y="94.1" font-size="34.8" fill="#fff" textLength="37.41" lengthAdjust="spacingAndGlyphs">14</text>
<text x="165.44" y="94.1" font-size="34.8" fill="#fff" textLength="36.94" lengthAdjust="spacingAndGlyphs">41</text>
<text x="94.25" y="77.7" font-size="11.5" font-weight="bold" fill="#fff" textLength="7.61" lengthAdjust="spacingAndGlyphs">7</text>
<text x="206.53" y="77.7" font-size="11.5" font-weight="bold" fill="#fff" textLength="6.07" lengthAdjust="spacingAndGlyphs">3</text>
<rect x="0" y="680" width="394" height="1" fill="#000"/>
<rect x="497" y="680" width="712" height="1" fill="#000"/>
<rect x="0" y="681" width="1209" height="1" fill="#ffffff"/>
<rect x="0" y="681" width="1" height="19" fill="#a0a0a0"/>
<rect x="1" y="681" width="1" height="18" fill="#696969"/>
<rect x="0" y="700" width="1209" height="2" fill="#fbfbfb"/>
<rect x="0" y="704" width="1209" height="1" fill="#a0a0a0"/>
<rect x="98" y="683" width="1" height="14" fill="#6d6d6d"/>
<rect x="203" y="683" width="1" height="14" fill="#6d6d6d"/>
<rect x="290" y="683" width="1" height="14" fill="#6d6d6d"/>
<rect x="586" y="683" width="1" height="14" fill="#6d6d6d"/>
<rect x="654" y="683" width="1" height="14" fill="#6d6d6d"/>
<rect x="730" y="683" width="1" height="14" fill="#6d6d6d"/>
<rect x="822" y="683" width="1" height="14" fill="#6d6d6d"/>
<rect x="914" y="683" width="1" height="14" fill="#6d6d6d"/>
<rect x="394" y="680" width="104" height="19" fill="#000"/>
<rect x="395" y="679" width="102" height="19" fill="#fff"/>
<text x="17.65" y="694.6" font-size="11.7" fill="#6d6d6d" textLength="68.29" lengthAdjust="spacingAndGlyphs">EURUSD,H4</text>
<text x="109.2" y="694.6" font-size="11.7" fill="#6d6d6d" textLength="81.78" lengthAdjust="spacingAndGlyphs">AUDUSD,Daily</text>
<text x="211.79" y="694.6" font-size="11.7" fill="#6d6d6d" textLength="67.79" lengthAdjust="spacingAndGlyphs">USDCHF,H4</text>
<text x="300.29" y="694.6" font-size="11.7" fill="#6d6d6d" textLength="81.49" lengthAdjust="spacingAndGlyphs">USDCAD,Daily</text>
<text x="403.67" y="694.6" font-size="11.7" fill="#000" textLength="83.61" lengthAdjust="spacingAndGlyphs">USDCNH,Daily</text>
<text x="509.35" y="694.6" font-size="11.7" fill="#6d6d6d" textLength="64.78" lengthAdjust="spacingAndGlyphs">UKOil,Daily</text>
<text x="594.92" y="694.6" font-size="11.7" fill="#6d6d6d" textLength="47.85" lengthAdjust="spacingAndGlyphs">DJ30,H1</text>
<text x="665.39" y="694.6" font-size="11.7" fill="#6d6d6d" textLength="52.65" lengthAdjust="spacingAndGlyphs">USDX,H1</text>
<text x="741.0" y="694.6" font-size="11.7" fill="#6d6d6d" textLength="69.55" lengthAdjust="spacingAndGlyphs">XAUUSD,H4</text>
<text x="833.61" y="694.6" font-size="11.7" fill="#6d6d6d" textLength="68.32" lengthAdjust="spacingAndGlyphs">GBPUSD,H1</text>
<polygon points="1183,689 1186,686 1186,692" fill="#8a8a8a"/>
<polygon points="1202,686 1205,689 1202,692" fill="#8a8a8a"/>
</svg></body></html>
